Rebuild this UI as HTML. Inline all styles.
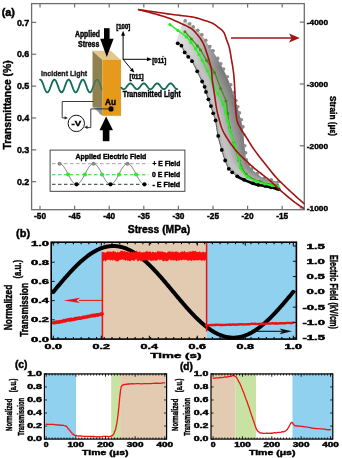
<!DOCTYPE html>
<html><head><meta charset="utf-8"><style>
html,body{margin:0;padding:0;background:#fff;}
body{width:342px;height:458px;overflow:hidden;}
svg{display:block;will-change:transform;}
text{font-family:"Liberation Sans", sans-serif;}
</style></head><body>
<svg width="342" height="458" viewBox="0 0 342 458" font-family="Liberation Sans, sans-serif">
<defs><linearGradient id="band" x1="0" y1="0" x2="1" y2="0"><stop offset="0" stop-color="#d6d6d6"/><stop offset="0.5" stop-color="#ababab"/><stop offset="1" stop-color="#7e7e7e"/></linearGradient><linearGradient id="fadeTop" gradientUnits="userSpaceOnUse" x1="0" y1="20" x2="0" y2="68"><stop offset="0" stop-color="#fff" stop-opacity="0.75"/><stop offset="1" stop-color="#fff" stop-opacity="0"/></linearGradient></defs>
<rect x="0" y="0" width="342" height="458" fill="#ffffff" stroke="none" stroke-width="1"/>
<line x1="40" y1="209.7" x2="40" y2="205.7" stroke="#6e6e6e" stroke-width="1.2"/>
<line x1="40" y1="3.6" x2="40" y2="7.6" stroke="#6e6e6e" stroke-width="1.2"/>
<text x="40" y="219.2" font-size="8.6" font-weight="bold" text-anchor="middle" fill="#000" textLength="12" lengthAdjust="spacingAndGlyphs" stroke="#000" stroke-width="0.42">-50</text>
<line x1="74.6" y1="209.7" x2="74.6" y2="205.7" stroke="#6e6e6e" stroke-width="1.2"/>
<line x1="74.6" y1="3.6" x2="74.6" y2="7.6" stroke="#6e6e6e" stroke-width="1.2"/>
<text x="74.6" y="219.2" font-size="8.6" font-weight="bold" text-anchor="middle" fill="#000" textLength="12" lengthAdjust="spacingAndGlyphs" stroke="#000" stroke-width="0.42">-45</text>
<line x1="109.2" y1="209.7" x2="109.2" y2="205.7" stroke="#6e6e6e" stroke-width="1.2"/>
<line x1="109.2" y1="3.6" x2="109.2" y2="7.6" stroke="#6e6e6e" stroke-width="1.2"/>
<text x="109.2" y="219.2" font-size="8.6" font-weight="bold" text-anchor="middle" fill="#000" textLength="12" lengthAdjust="spacingAndGlyphs" stroke="#000" stroke-width="0.42">-40</text>
<line x1="143.8" y1="209.7" x2="143.8" y2="205.7" stroke="#6e6e6e" stroke-width="1.2"/>
<line x1="143.8" y1="3.6" x2="143.8" y2="7.6" stroke="#6e6e6e" stroke-width="1.2"/>
<text x="143.8" y="219.2" font-size="8.6" font-weight="bold" text-anchor="middle" fill="#000" textLength="12" lengthAdjust="spacingAndGlyphs" stroke="#000" stroke-width="0.42">-35</text>
<line x1="178.4" y1="209.7" x2="178.4" y2="205.7" stroke="#6e6e6e" stroke-width="1.2"/>
<line x1="178.4" y1="3.6" x2="178.4" y2="7.6" stroke="#6e6e6e" stroke-width="1.2"/>
<text x="178.4" y="219.2" font-size="8.6" font-weight="bold" text-anchor="middle" fill="#000" textLength="12" lengthAdjust="spacingAndGlyphs" stroke="#000" stroke-width="0.42">-30</text>
<line x1="213" y1="209.7" x2="213" y2="205.7" stroke="#6e6e6e" stroke-width="1.2"/>
<line x1="213" y1="3.6" x2="213" y2="7.6" stroke="#6e6e6e" stroke-width="1.2"/>
<text x="213" y="219.2" font-size="8.6" font-weight="bold" text-anchor="middle" fill="#000" textLength="12" lengthAdjust="spacingAndGlyphs" stroke="#000" stroke-width="0.42">-25</text>
<line x1="247.6" y1="209.7" x2="247.6" y2="205.7" stroke="#6e6e6e" stroke-width="1.2"/>
<line x1="247.6" y1="3.6" x2="247.6" y2="7.6" stroke="#6e6e6e" stroke-width="1.2"/>
<text x="247.6" y="219.2" font-size="8.6" font-weight="bold" text-anchor="middle" fill="#000" textLength="12" lengthAdjust="spacingAndGlyphs" stroke="#000" stroke-width="0.42">-20</text>
<line x1="282.2" y1="209.7" x2="282.2" y2="205.7" stroke="#6e6e6e" stroke-width="1.2"/>
<line x1="282.2" y1="3.6" x2="282.2" y2="7.6" stroke="#6e6e6e" stroke-width="1.2"/>
<text x="282.2" y="219.2" font-size="8.6" font-weight="bold" text-anchor="middle" fill="#000" textLength="12" lengthAdjust="spacingAndGlyphs" stroke="#000" stroke-width="0.42">-15</text>
<line x1="31.6" y1="22.4" x2="36.1" y2="22.4" stroke="#6e6e6e" stroke-width="1.2"/>
<text x="29.3" y="25.57" font-size="8.8" font-weight="bold" text-anchor="end" fill="#000" textLength="12.4" lengthAdjust="spacingAndGlyphs" stroke="#000" stroke-width="0.42">0.7</text>
<line x1="31.6" y1="54.26" x2="36.1" y2="54.26" stroke="#6e6e6e" stroke-width="1.2"/>
<text x="29.3" y="57.43" font-size="8.8" font-weight="bold" text-anchor="end" fill="#000" textLength="12.4" lengthAdjust="spacingAndGlyphs" stroke="#000" stroke-width="0.42">0.6</text>
<line x1="31.6" y1="86.12" x2="36.1" y2="86.12" stroke="#6e6e6e" stroke-width="1.2"/>
<text x="29.3" y="89.29" font-size="8.8" font-weight="bold" text-anchor="end" fill="#000" textLength="12.4" lengthAdjust="spacingAndGlyphs" stroke="#000" stroke-width="0.42">0.5</text>
<line x1="31.6" y1="117.98" x2="36.1" y2="117.98" stroke="#6e6e6e" stroke-width="1.2"/>
<text x="29.3" y="121.15" font-size="8.8" font-weight="bold" text-anchor="end" fill="#000" textLength="12.4" lengthAdjust="spacingAndGlyphs" stroke="#000" stroke-width="0.42">0.4</text>
<line x1="31.6" y1="149.84" x2="36.1" y2="149.84" stroke="#6e6e6e" stroke-width="1.2"/>
<text x="29.3" y="153.01" font-size="8.8" font-weight="bold" text-anchor="end" fill="#000" textLength="12.4" lengthAdjust="spacingAndGlyphs" stroke="#000" stroke-width="0.42">0.3</text>
<line x1="31.6" y1="181.7" x2="36.1" y2="181.7" stroke="#6e6e6e" stroke-width="1.2"/>
<text x="29.3" y="184.87" font-size="8.8" font-weight="bold" text-anchor="end" fill="#000" textLength="12.4" lengthAdjust="spacingAndGlyphs" stroke="#000" stroke-width="0.42">0.2</text>
<line x1="304.3" y1="22.1" x2="299.8" y2="22.1" stroke="#6e6e6e" stroke-width="1.2"/>
<text x="306.8" y="24.98" font-size="8" font-weight="bold" text-anchor="start" fill="#000" textLength="21.2" lengthAdjust="spacingAndGlyphs" stroke="#000" stroke-width="0.42">-4000</text>
<line x1="304.3" y1="84" x2="299.8" y2="84" stroke="#6e6e6e" stroke-width="1.2"/>
<text x="306.8" y="86.88" font-size="8" font-weight="bold" text-anchor="start" fill="#000" textLength="21.2" lengthAdjust="spacingAndGlyphs" stroke="#000" stroke-width="0.42">-3000</text>
<line x1="304.3" y1="145.8" x2="299.8" y2="145.8" stroke="#6e6e6e" stroke-width="1.2"/>
<text x="306.8" y="148.68" font-size="8" font-weight="bold" text-anchor="start" fill="#000" textLength="21.2" lengthAdjust="spacingAndGlyphs" stroke="#000" stroke-width="0.42">-2000</text>
<line x1="304.3" y1="207.9" x2="299.8" y2="207.9" stroke="#6e6e6e" stroke-width="1.2"/>
<text x="306.8" y="210.78" font-size="8" font-weight="bold" text-anchor="start" fill="#000" textLength="21.2" lengthAdjust="spacingAndGlyphs" stroke="#000" stroke-width="0.42">-1000</text>
<rect x="31.6" y="3.6" width="272.7" height="206.1" fill="none" stroke="#6e6e6e" stroke-width="1.3"/>
<text x="1.7" y="16.21" font-size="10.3" font-weight="bold" text-anchor="start" fill="#000" textLength="13.3" lengthAdjust="spacingAndGlyphs" stroke="#000" stroke-width="0.42">(a)</text>
<g transform="translate(6.9,104.9) rotate(-90)"><text x="0" y="4.03" font-size="11.2" font-weight="bold" text-anchor="middle" fill="#000" textLength="89.2" lengthAdjust="spacingAndGlyphs" stroke="#000" stroke-width="0.42">Transmittance (%)</text></g>
<g transform="translate(333.6,116.1) rotate(90)"><text x="0" y="3.53" font-size="9.8" font-weight="bold" text-anchor="middle" fill="#000" textLength="40" lengthAdjust="spacingAndGlyphs" stroke="#000" stroke-width="0.42">Strain (με)</text></g>
<text x="159" y="233.27" font-size="10.2" font-weight="bold" text-anchor="middle" fill="#000" textLength="62.5" lengthAdjust="spacingAndGlyphs" stroke="#000" stroke-width="0.42">Stress (MPa)</text>
<polygon points="176.5,41.5 177.82,43.16 179.74,44.15 181.32,45.6 182.35,47.49 183.23,49.46 184.15,51.42 185.28,53.25 186.64,54.93 188.06,56.56 189.56,58.12 190.98,59.74 192.17,61.54 193.22,63.43 194.21,65.35 195.17,67.29 196.13,69.23 197.08,71.16 198.03,73.1 198.97,75.05 199.9,77 200.83,78.95 201.76,80.9 202.71,82.85 203.66,84.78 204.49,86.78 205.09,88.85 205.62,90.95 206.24,93.02 206.89,95.08 207.57,97.13 208.26,99.18 209,101.21 209.76,103.23 210.51,105.26 211.2,107.31 211.85,109.37 212.5,111.43 213.18,113.48 213.95,115.5 214.68,117.53 215.25,119.61 215.68,121.73 216.07,123.86 216.4,125.99 216.73,128.13 217.06,130.26 217.41,132.39 217.8,134.52 218.24,136.64 218.71,138.74 219.23,140.84 219.76,142.94 220.33,145.02 220.9,147.11 221.48,149.19 222.09,151.26 222.7,153.33 223.35,155.4 224.03,157.45 224.74,159.48 225.5,161.51 226.29,163.52 227.12,165.51 228.05,167.46 229.16,169.31 230.64,170.87 232.3,172.27 233.92,173.69 235.6,175.05 237.41,176.24 239.29,177.28 241.23,178.24 243.2,179.14 245.18,180 247.17,180.83 249.18,181.63 251.2,182.41 253.23,183.15 255.28,183.83 257.37,184.36 259.49,184.77 261.63,185.08 263.77,185.4 265.89,185.79 268,186.27 270.1,186.79 272.21,187.27 274.32,187.72 276.43,188.18 278.5,188.8 278.44,187.98 276.36,187.37 274.25,186.88 272.14,186.41 270.02,185.94 267.91,185.44 265.8,184.96 263.69,184.51 261.58,184.1 259.48,183.67 257.4,183.15 255.35,182.52 253.34,181.76 251.35,180.93 249.39,180.06 247.46,179.14 245.57,178.19 243.69,177.2 241.85,176.17 240.08,175.07 238.39,173.89 236.78,172.57 235.27,171.12 233.81,169.6 232.32,168.11 230.99,166.48 229.99,164.58 229.15,162.6 228.39,160.59 227.68,158.55 226.99,156.51 226.33,154.45 225.71,152.38 225.11,150.3 224.52,148.22 223.93,146.13 223.36,144.04 222.79,141.95 222.22,139.86 221.68,137.76 221.15,135.66 220.67,133.55 220.22,131.43 219.81,129.3 219.42,127.17 219.05,125.04 218.68,122.91 218.31,120.77 217.9,118.65 217.44,116.53 216.86,114.45 216.12,112.41 215.36,110.38 214.67,108.33 214,106.27 213.33,104.21 212.62,102.16 211.86,100.13 211.07,98.11 210.31,96.09 209.58,94.05 208.87,92 208.18,89.95 207.51,87.9 206.91,85.82 206.25,83.77 205.39,81.78 204.41,79.85 203.44,77.91 202.49,75.96 201.54,74.02 200.57,72.08 199.58,70.16 198.58,68.25 197.59,66.32 196.61,64.39 195.62,62.46 194.61,60.55 193.53,58.67 192.33,56.87 190.92,55.23 189.42,53.67 187.99,52.04 186.59,50.39 185.38,48.62 184.36,46.74 183.38,44.83 182.26,43 180.66,41.58 178.75,40.56 177.34,39.1" fill="#b8b8b8" stroke="none" stroke-width="1"/>
<polygon points="177.2,39.5 178.59,40.99 180.5,42.01 182.11,43.43 183.21,45.27 184.17,47.19 185.18,49.08 186.37,50.87 187.76,52.52 189.19,54.15 190.69,55.71 192.11,57.35 193.3,59.15 194.38,61.03 195.39,62.94 196.37,64.87 197.35,66.8 198.33,68.73 199.32,70.65 200.31,72.58 201.27,74.52 202.22,76.46 203.16,78.41 204.13,80.35 205.1,82.28 205.96,84.27 206.61,86.33 207.19,88.41 207.85,90.46 208.54,92.51 209.25,94.56 209.97,96.6 210.73,98.63 211.51,100.65 212.26,102.68 212.97,104.72 213.65,106.78 214.31,108.84 214.99,110.9 215.76,112.92 216.49,114.96 217.07,117.05 217.53,119.16 217.94,121.29 218.3,123.42 218.66,125.55 219.03,127.69 219.41,129.82 219.82,131.94 220.26,134.06 220.75,136.17 221.27,138.27 221.81,140.37 222.38,142.46 222.95,144.55 223.53,146.64 224.11,148.72 224.71,150.81 225.31,152.88 225.95,154.95 226.62,157 227.31,159.05 228.04,161.08 228.81,163.09 229.66,165.06 230.68,166.95 232.04,168.57 233.56,170.04 235.05,171.55 236.59,172.99 238.23,174.28 239.95,175.44 241.75,176.51 243.61,177.53 245.5,178.49 247.42,179.43 249.36,180.32 251.33,181.18 253.32,181.99 255.34,182.74 257.4,183.35 259.49,183.85 261.59,184.26 263.7,184.66 265.82,185.1 267.93,185.58 270.04,186.08 272.15,186.56 274.26,187.02 276.37,187.5 278.45,188.12 278.39,187.3 276.31,186.69 274.2,186.19 272.08,185.7 269.96,185.23 267.84,184.75 265.73,184.27 263.62,183.77 261.54,183.28 259.47,182.75 257.43,182.14 255.41,181.43 253.43,180.59 251.49,179.7 249.57,178.75 247.71,177.74 245.89,176.68 244.1,175.59 242.36,174.44 240.74,173.23 239.21,171.93 237.77,170.51 236.4,168.97 235.07,167.38 233.72,165.81 232.51,164.11 231.6,162.19 230.84,160.18 230.15,158.14 229.49,156.09 228.86,154.02 228.26,151.95 227.67,149.86 227.11,147.77 226.54,145.68 225.98,143.58 225.41,141.49 224.84,139.39 224.27,137.3 223.72,135.19 223.19,133.09 222.7,130.97 222.24,128.85 221.81,126.72 221.39,124.6 220.98,122.47 220.58,120.34 220.18,118.21 219.75,116.08 219.26,113.97 218.67,111.88 217.94,109.83 217.18,107.8 216.48,105.74 215.8,103.68 215.1,101.63 214.37,99.58 213.6,97.55 212.8,95.53 212.02,93.51 211.26,91.48 210.52,89.44 209.79,87.4 209.08,85.36 208.43,83.3 207.72,81.26 206.82,79.28 205.83,77.35 204.85,75.42 203.88,73.47 202.9,71.54 201.91,69.61 200.87,67.71 199.82,65.82 198.81,63.9 197.81,61.98 196.8,60.05 195.76,58.15 194.67,56.28 193.46,54.48 192.05,52.83 190.55,51.25 189.11,49.63 187.68,48 186.41,46.28 185.3,44.46 184.24,42.61 183.05,40.84 181.42,39.43 179.52,38.4 178.04,37.1" fill="#c3c3c3" stroke="none" stroke-width="1"/>
<polygon points="177.9,37.5 179.36,38.83 181.27,39.86 182.89,41.27 184.07,43.06 185.11,44.92 186.2,46.75 187.46,48.48 188.89,50.11 190.33,51.74 191.82,53.31 193.23,54.95 194.44,56.76 195.53,58.63 196.57,60.54 197.57,62.46 198.57,64.38 199.58,66.31 200.61,68.2 201.64,70.11 202.63,72.03 203.6,73.97 204.57,75.92 205.55,77.85 206.54,79.78 207.43,81.76 208.13,83.8 208.76,85.86 209.47,87.91 210.19,89.95 210.93,91.99 211.68,94.03 212.46,96.05 213.25,98.07 214.02,100.1 214.75,102.14 215.44,104.2 216.12,106.26 216.81,108.32 217.58,110.35 218.31,112.39 218.9,114.48 219.38,116.59 219.81,118.72 220.2,120.85 220.6,122.98 221,125.11 221.41,127.24 221.84,129.37 222.29,131.49 222.78,133.6 223.31,135.71 223.86,137.81 224.43,139.9 225,142 225.57,144.09 226.14,146.19 226.71,148.28 227.28,150.37 227.87,152.45 228.49,154.52 229.13,156.58 229.8,158.63 230.5,160.66 231.28,162.66 232.2,164.59 233.44,166.27 234.82,167.82 236.18,169.4 237.57,170.93 239.04,172.32 240.6,173.6 242.26,174.79 244.01,175.91 245.83,176.98 247.66,178.02 249.54,179.01 251.46,179.94 253.42,180.83 255.4,181.65 257.43,182.34 259.48,182.94 261.55,183.44 263.64,183.92 265.74,184.41 267.86,184.89 269.97,185.37 272.09,185.85 274.21,186.33 276.32,186.82 278.4,187.44 278.34,186.62 276.25,186 274.14,185.49 272.02,184.99 269.9,184.52 267.77,184.07 265.65,183.58 263.56,183.04 261.5,182.46 259.46,181.84 257.46,181.14 255.47,180.34 253.53,179.43 251.62,178.46 249.75,177.43 247.95,176.33 246.22,175.17 244.51,173.97 242.88,172.72 241.39,171.38 240.03,169.97 238.75,168.45 237.53,166.83 236.33,165.16 235.11,163.51 234.03,161.75 233.21,159.79 232.53,157.75 231.9,155.69 231.31,153.62 230.74,151.54 230.18,149.45 229.64,147.35 229.11,145.25 228.57,143.14 228.02,141.04 227.46,138.93 226.89,136.83 226.32,134.73 225.77,132.63 225.22,130.52 224.72,128.4 224.26,126.28 223.8,124.15 223.36,122.02 222.92,119.9 222.48,117.77 222.06,115.64 221.59,113.51 221.09,111.4 220.48,109.31 219.75,107.26 218.99,105.22 218.29,103.16 217.59,101.1 216.88,99.04 216.13,97 215.34,94.97 214.53,92.95 213.72,90.93 212.94,88.91 212.17,86.88 211.4,84.85 210.65,82.81 209.95,80.77 209.19,78.75 208.26,76.78 207.25,74.85 206.25,72.92 205.26,70.99 204.27,69.05 203.24,67.14 202.16,65.26 201.07,63.39 200.04,61.48 199.01,59.56 197.98,57.65 196.92,55.75 195.8,53.88 194.58,52.08 193.17,50.43 191.69,48.84 190.23,47.22 188.77,45.62 187.44,43.94 186.25,42.19 185.1,40.4 183.84,38.67 182.18,37.29 180.29,36.23 178.74,35.1" fill="#bfbfbf" stroke="none" stroke-width="1"/>
<polygon points="178.6,35.5 180.13,36.66 182.03,37.72 183.68,39.11 184.93,40.84 186.06,42.64 187.23,44.41 188.55,46.1 190.01,47.71 191.46,49.32 192.95,50.91 194.36,52.56 195.58,54.36 196.69,56.23 197.75,58.13 198.77,60.04 199.79,61.96 200.82,63.88 201.9,65.75 202.97,67.63 203.99,69.55 204.99,71.48 205.97,73.42 206.97,75.35 207.97,77.28 208.89,79.25 209.64,81.28 210.34,83.32 211.08,85.36 211.84,87.39 212.6,89.42 213.38,91.45 214.18,93.47 214.99,95.49 215.78,97.52 216.52,99.56 217.23,101.62 217.92,103.68 218.63,105.73 219.39,107.77 220.12,109.82 220.72,111.91 221.22,114.03 221.68,116.15 222.1,118.28 222.53,120.41 222.96,122.54 223.4,124.66 223.85,126.79 224.32,128.92 224.82,131.03 225.36,133.14 225.91,135.24 226.48,137.34 227.05,139.45 227.61,141.55 228.17,143.65 228.71,145.75 229.25,147.85 229.8,149.95 230.36,152.04 230.95,154.11 231.55,156.18 232.19,158.24 232.89,160.27 233.72,162.22 234.83,163.97 236.08,165.6 237.3,167.26 238.55,168.87 239.86,170.36 241.26,171.75 242.77,173.06 244.42,174.3 246.15,175.47 247.9,176.61 249.71,177.7 251.59,178.71 253.51,179.67 255.46,180.56 257.45,181.34 259.47,182.02 261.51,182.62 263.57,183.18 265.67,183.72 267.78,184.2 269.91,184.66 272.03,185.14 274.15,185.63 276.26,186.14 278.35,186.76 278.29,185.94 276.2,185.32 274.08,184.79 271.96,184.28 269.83,183.81 267.7,183.38 265.57,182.89 263.49,182.3 261.45,181.64 259.46,180.92 257.48,180.13 255.53,179.25 253.62,178.27 251.75,177.23 249.93,176.12 248.19,174.92 246.54,173.65 244.91,172.36 243.39,170.99 242.05,169.54 240.85,168.01 239.73,166.39 238.66,164.69 237.59,162.94 236.51,161.21 235.55,159.38 234.82,157.39 234.21,155.33 233.66,153.25 233.13,151.16 232.61,149.06 232.1,146.95 231.61,144.84 231.11,142.72 230.6,140.6 230.06,138.49 229.5,136.38 228.94,134.27 228.37,132.17 227.81,130.06 227.26,127.95 226.75,125.83 226.27,123.7 225.8,121.57 225.33,119.45 224.85,117.32 224.38,115.2 223.93,113.07 223.44,110.95 222.91,108.83 222.3,106.74 221.57,104.68 220.81,102.64 220.1,100.58 219.38,98.52 218.65,96.46 217.89,94.42 217.08,92.39 216.26,90.38 215.43,88.36 214.62,86.34 213.82,84.31 213.02,82.29 212.22,80.27 211.47,78.24 210.65,76.24 209.7,74.28 208.67,72.36 207.66,70.43 206.65,68.5 205.63,66.57 204.57,64.67 203.45,62.81 202.32,60.96 201.26,59.06 200.21,57.15 199.16,55.24 198.08,53.35 196.94,51.49 195.71,49.69 194.3,48.03 192.82,46.43 191.35,44.81 189.86,43.23 188.46,41.61 187.19,39.91 185.96,38.18 184.63,36.51 182.95,35.15 181.06,34.07 179.44,33.1" fill="#b4b4b4" stroke="none" stroke-width="1"/>
<polygon points="179.3,33.5 180.91,34.5 182.8,35.58 184.47,36.94 185.79,38.62 187,40.37 188.26,42.08 189.64,43.71 191.13,45.3 192.6,46.91 194.08,48.51 195.48,50.17 196.71,51.97 197.84,53.83 198.93,55.72 199.97,57.63 201.01,59.54 202.07,61.45 203.19,63.3 204.31,65.16 205.36,67.07 206.37,68.99 207.38,70.93 208.39,72.86 209.41,74.78 210.36,76.74 211.16,78.75 211.91,80.78 212.69,82.8 213.49,84.83 214.28,86.85 215.09,88.87 215.91,90.89 216.73,92.91 217.54,94.94 218.3,96.98 219.02,99.03 219.73,101.09 220.45,103.15 221.21,105.2 221.93,107.25 222.55,109.35 223.07,111.46 223.55,113.58 224,115.71 224.46,117.84 224.93,119.96 225.4,122.09 225.87,124.21 226.35,126.34 226.85,128.46 227.4,130.57 227.96,132.68 228.53,134.78 229.09,136.89 229.65,139 230.19,141.11 230.71,143.22 231.22,145.34 231.72,147.45 232.23,149.55 232.76,151.65 233.31,153.74 233.88,155.81 234.5,157.87 235.24,159.86 236.23,161.67 237.34,163.38 238.43,165.12 239.54,166.81 240.68,168.4 241.91,169.91 243.29,171.34 244.83,172.68 246.48,173.96 248.14,175.21 249.89,176.38 251.72,177.48 253.6,178.51 255.52,179.47 257.48,180.33 259.46,181.11 261.46,181.8 263.5,182.45 265.59,183.03 267.71,183.51 269.85,183.95 271.97,184.43 274.09,184.93 276.21,185.46 278.3,186.08 278.24,185.26 276.14,184.64 274.03,184.1 271.9,183.57 269.77,183.1 267.63,182.69 265.5,182.2 263.42,181.56 261.41,180.82 259.45,180.01 257.51,179.12 255.59,178.16 253.72,177.11 251.88,176 250.1,174.81 248.43,173.52 246.87,172.14 245.32,170.75 243.9,169.27 242.7,167.7 241.67,166.05 240.71,164.33 239.79,162.54 238.85,160.72 237.91,158.91 237.07,157.02 236.44,154.99 235.9,152.9 235.41,150.8 234.94,148.69 234.48,146.57 234.03,144.45 233.58,142.32 233.12,140.19 232.63,138.07 232.1,135.94 231.55,133.83 231,131.71 230.42,129.6 229.85,127.49 229.29,125.38 228.78,123.25 228.29,121.12 227.8,118.99 227.29,116.87 226.79,114.75 226.29,112.63 225.8,110.5 225.29,108.38 224.74,106.26 224.11,104.17 223.39,102.11 222.63,100.06 221.9,97.99 221.17,95.93 220.43,93.88 219.64,91.84 218.83,89.81 217.98,87.8 217.14,85.78 216.3,83.77 215.46,81.75 214.63,79.74 213.79,77.73 212.98,75.72 212.12,73.73 211.14,71.78 210.09,69.86 209.06,67.93 208.03,66.01 206.99,64.09 205.91,62.19 204.74,60.36 203.57,58.53 202.48,56.64 201.41,54.73 200.34,52.83 199.23,50.95 198.08,49.1 196.83,47.3 195.43,45.62 193.96,44.01 192.47,42.41 190.95,40.85 189.49,39.27 188.13,37.64 186.82,35.96 185.42,34.35 183.71,33.01 181.83,31.9 180.14,31.1" fill="#a9a9a9" stroke="none" stroke-width="1"/>
<polygon points="180,31.5 181.68,32.34 183.56,33.43 185.26,34.78 186.65,36.41 187.94,38.1 189.29,39.74 190.74,41.32 192.25,42.89 193.73,44.49 195.21,46.1 196.61,47.78 197.85,49.57 199,51.43 200.1,53.31 201.17,55.22 202.23,57.12 203.32,59.02 204.48,60.85 205.64,62.69 206.72,64.58 207.76,66.5 208.78,68.43 209.81,70.36 210.85,72.28 211.83,74.23 212.68,76.22 213.48,78.24 214.31,80.25 215.13,82.26 215.96,84.28 216.79,86.3 217.64,88.31 218.48,90.33 219.29,92.36 220.07,94.4 220.82,96.45 221.54,98.51 222.27,100.57 223.02,102.62 223.75,104.68 224.37,106.78 224.92,108.89 225.43,111.01 225.91,113.14 226.4,115.26 226.9,117.39 227.4,119.51 227.89,121.64 228.37,123.77 228.89,125.89 229.44,128.01 230.01,130.12 230.59,132.22 231.14,134.34 231.69,136.45 232.22,138.57 232.72,140.7 233.18,142.83 233.64,144.95 234.11,147.07 234.58,149.18 235.06,151.29 235.56,153.39 236.11,155.47 236.77,157.49 237.63,159.37 238.6,161.16 239.56,162.97 240.52,164.75 241.5,166.44 242.57,168.07 243.8,169.61 245.24,171.07 246.8,172.45 248.39,173.8 250.07,175.07 251.85,176.24 253.7,177.34 255.58,178.38 257.5,179.32 259.45,180.19 261.42,180.98 263.44,181.71 265.51,182.33 267.64,182.82 269.78,183.25 271.92,183.72 274.04,184.24 276.15,184.78 278.25,185.4 278.19,184.58 276.09,183.96 273.97,183.4 271.85,182.86 269.71,182.4 267.55,182 265.42,181.51 263.36,180.82 261.37,180 259.44,179.09 257.53,178.11 255.65,177.07 253.81,175.95 252.01,174.76 250.28,173.49 248.68,172.11 247.19,170.63 245.73,169.13 244.42,167.54 243.36,165.85 242.49,164.09 241.7,162.27 240.91,160.4 240.11,158.5 239.3,156.61 238.59,154.65 238.05,152.59 237.59,150.48 237.17,148.36 236.76,146.22 236.35,144.09 235.95,141.95 235.54,139.81 235.12,137.67 234.65,135.53 234.14,133.4 233.6,131.27 233.05,129.15 232.47,127.04 231.89,124.93 231.33,122.81 230.81,120.68 230.31,118.55 229.8,116.42 229.26,114.3 228.72,112.18 228.19,110.06 227.67,107.93 227.13,105.81 226.56,103.7 225.92,101.6 225.2,99.53 224.45,97.47 223.71,95.41 222.97,93.35 222.2,91.3 221.4,89.26 220.57,87.23 219.71,85.22 218.84,83.21 217.98,81.2 217.11,79.19 216.24,77.19 215.37,75.19 214.5,73.19 213.59,71.22 212.58,69.28 211.52,67.36 210.47,65.44 209.42,63.52 208.36,61.6 207.24,59.72 206.03,57.91 204.81,56.1 203.7,54.22 202.61,52.32 201.52,50.42 200.39,48.55 199.21,46.7 197.96,44.91 196.56,43.22 195.09,41.6 193.59,40 192.04,38.46 190.52,36.94 189.08,35.37 187.69,33.74 186.21,32.19 184.48,30.86 182.6,29.74 180.84,29.1" fill="#9f9f9f" stroke="none" stroke-width="1"/>
<polygon points="180.7,29.5 182.45,30.17 184.33,31.29 186.05,32.62 187.51,34.19 188.89,35.82 190.31,37.41 191.83,38.94 193.37,40.48 194.86,42.08 196.34,43.7 197.73,45.39 198.99,47.18 200.16,49.03 201.28,50.91 202.37,52.8 203.46,54.7 204.57,56.59 205.77,58.4 206.98,60.22 208.08,62.1 209.14,64.01 210.18,65.94 211.23,67.86 212.29,69.78 213.3,71.72 214.2,73.7 215.05,75.7 215.92,77.7 216.78,79.7 217.64,81.71 218.5,83.72 219.36,85.73 220.22,87.75 221.05,89.78 221.85,91.82 222.61,93.87 223.35,95.93 224.09,97.99 224.84,100.05 225.56,102.12 226.2,104.21 226.76,106.32 227.3,108.45 227.81,110.57 228.33,112.69 228.87,114.81 229.4,116.93 229.9,119.06 230.4,121.19 230.92,123.32 231.48,125.44 232.06,127.55 232.64,129.67 233.19,131.78 233.73,133.91 234.25,136.04 234.72,138.17 235.15,140.31 235.56,142.45 235.98,144.59 236.39,146.72 236.82,148.84 237.25,150.96 237.73,153.07 238.29,155.13 239.02,157.07 239.86,158.94 240.69,160.83 241.5,162.69 242.32,164.49 243.22,166.22 244.32,167.89 245.65,169.45 247.13,170.93 248.63,172.39 250.25,173.76 251.98,175.01 253.79,176.18 255.64,177.29 257.53,178.31 259.44,179.27 261.38,180.16 263.37,180.97 265.44,181.64 267.57,182.13 269.72,182.54 271.86,183.01 273.98,183.54 276.1,184.1 278.2,184.72 278.14,183.9 276.03,183.28 273.91,182.7 271.79,182.15 269.64,181.69 267.48,181.31 265.34,180.81 263.29,180.09 261.33,179.18 259.43,178.17 257.56,177.1 255.71,175.98 253.9,174.79 252.14,173.53 250.46,172.18 248.92,170.7 247.52,169.12 246.14,167.52 244.93,165.82 244.01,164.01 243.31,162.14 242.68,160.21 242.04,158.25 241.37,156.28 240.7,154.31 240.11,152.29 239.66,150.19 239.28,148.05 238.92,145.91 238.57,143.76 238.22,141.61 237.87,139.45 237.51,137.29 237.12,135.14 236.68,132.99 236.19,130.85 235.65,128.72 235.1,126.59 234.52,124.47 233.94,122.36 233.36,120.24 232.83,118.11 232.32,115.97 231.79,113.84 231.23,111.72 230.65,109.61 230.09,107.49 229.54,105.36 228.98,103.24 228.39,101.13 227.74,99.03 227.02,96.96 226.27,94.89 225.52,92.83 224.76,90.77 223.97,88.72 223.16,86.68 222.31,84.65 221.44,82.64 220.55,80.63 219.66,78.63 218.76,76.63 217.86,74.63 216.94,72.65 216.02,70.67 215.06,68.71 214.01,66.78 212.94,64.86 211.87,62.95 210.8,61.03 209.72,59.12 208.58,57.25 207.32,55.46 206.06,53.67 204.92,51.8 203.81,49.91 202.7,48.02 201.54,46.15 200.35,44.31 199.08,42.52 197.69,40.82 196.22,39.18 194.72,37.59 193.13,36.07 191.54,34.6 190.02,33.09 188.55,31.53 187,30.02 185.24,28.72 183.37,27.57 181.54,27.1" fill="#969696" stroke="none" stroke-width="1"/>
<polygon points="181.4,27.5 183.22,28.01 185.09,29.15 186.84,30.46 188.37,31.97 189.83,33.55 191.34,35.07 192.92,36.55 194.49,38.07 196,39.67 197.47,41.3 198.86,43 200.12,44.79 201.31,46.63 202.46,48.5 203.57,50.39 204.68,52.28 205.81,54.16 207.06,55.95 208.31,57.74 209.45,59.62 210.53,61.53 211.59,63.45 212.65,65.36 213.73,67.28 214.76,69.21 215.72,71.17 216.62,73.15 217.53,75.14 218.43,77.14 219.32,79.14 220.21,81.15 221.09,83.16 221.96,85.17 222.81,87.2 223.62,89.23 224.4,91.28 225.16,93.34 225.9,95.41 226.65,97.47 227.37,99.55 228.02,101.64 228.61,103.76 229.17,105.88 229.71,108 230.27,110.12 230.84,112.23 231.39,114.35 231.92,116.48 232.43,118.62 232.96,120.75 233.53,122.87 234.11,124.99 234.69,127.11 235.24,129.23 235.78,131.36 236.27,133.5 236.72,135.64 237.12,137.8 237.49,139.95 237.85,142.1 238.21,144.25 238.57,146.4 238.94,148.54 239.34,150.67 239.81,152.76 240.42,154.77 241.12,156.72 241.82,158.68 242.48,160.63 243.14,162.53 243.88,164.38 244.83,166.16 246.06,167.84 247.45,169.42 248.87,170.99 250.42,172.44 252.12,173.78 253.89,175.02 255.7,176.2 257.56,177.31 259.43,178.36 261.34,179.34 263.3,180.23 265.36,180.95 267.5,181.45 269.66,181.83 271.8,182.3 273.93,182.84 276.04,183.42 278.15,184.04 278.09,183.22 275.98,182.6 273.86,182.01 271.73,181.45 269.58,180.98 267.41,180.62 265.27,180.12 263.22,179.35 261.28,178.36 259.42,177.26 257.59,176.1 255.77,174.89 254,173.63 252.27,172.3 250.64,170.87 249.16,169.3 247.85,167.61 246.55,165.9 245.45,164.09 244.66,162.17 244.13,160.18 243.66,158.16 243.17,156.11 242.63,154.06 242.1,152.01 241.63,149.93 241.27,147.79 240.97,145.63 240.68,143.46 240.39,141.29 240.1,139.12 239.79,136.95 239.48,134.78 239.12,132.61 238.71,130.45 238.23,128.3 237.7,126.17 237.15,124.03 236.57,121.91 235.98,119.79 235.4,117.67 234.86,115.53 234.34,113.39 233.79,111.26 233.2,109.14 232.59,107.03 231.99,104.92 231.42,102.8 230.83,100.68 230.21,98.56 229.55,96.46 228.83,94.38 228.09,92.31 227.33,90.24 226.55,88.18 225.75,86.14 224.92,84.1 224.05,82.07 223.16,80.06 222.25,78.06 221.34,76.06 220.41,74.07 219.47,72.08 218.51,70.1 217.54,68.14 216.52,66.2 215.45,64.28 214.36,62.37 213.27,60.45 212.19,58.54 211.08,56.64 209.91,54.78 208.61,53.01 207.31,51.25 206.14,49.38 205.02,47.49 203.88,45.61 202.7,43.75 201.49,41.91 200.21,40.13 198.82,38.42 197.36,36.77 195.84,35.18 194.23,33.69 192.57,32.27 190.96,30.82 189.41,29.31 187.79,27.86 186.01,26.58 184.14,25.41 182.24,25.1" fill="#8d8d8d" stroke="none" stroke-width="1"/>
<polygon points="182.1,25.5 183.99,25.84 185.85,27.01 187.63,28.29 189.24,29.75 190.78,31.27 192.37,32.74 194.01,34.17 195.61,35.66 197.13,37.25 198.59,38.9 199.98,40.6 201.26,42.39 202.47,44.23 203.64,46.09 204.77,47.97 205.9,49.86 207.06,51.73 208.35,53.5 209.64,55.27 210.81,57.13 211.91,59.04 212.99,60.95 214.07,62.87 215.16,64.78 216.23,66.7 217.23,68.65 218.2,70.61 219.15,72.59 220.08,74.58 221,76.57 221.91,78.57 222.82,80.58 223.7,82.59 224.56,84.62 225.39,86.65 226.19,88.7 226.97,90.76 227.72,92.83 228.47,94.9 229.19,96.98 229.85,99.08 230.46,101.19 231.04,103.31 231.61,105.43 232.2,107.55 232.81,109.66 233.39,111.78 233.94,113.91 234.46,116.05 234.99,118.18 235.57,120.3 236.16,122.42 236.74,124.55 237.29,126.68 237.82,128.81 238.3,130.96 238.72,133.12 239.09,135.28 239.41,137.45 239.72,139.62 240.03,141.79 240.33,143.95 240.63,146.11 240.95,148.27 241.33,150.4 241.82,152.47 242.38,154.5 242.95,156.54 243.47,158.57 243.96,160.57 244.53,162.54 245.34,164.44 246.47,166.23 247.78,167.91 249.11,169.58 250.6,171.13 252.25,172.54 253.98,173.86 255.76,175.11 257.58,176.3 259.42,177.44 261.29,178.52 263.23,179.5 265.28,180.26 267.42,180.76 269.59,181.12 271.74,181.59 273.87,182.15 275.99,182.74 278.1,183.36 278.04,182.54 275.92,181.92 273.8,181.31 271.67,180.74 269.52,180.27 267.34,179.93 265.19,179.43 263.15,178.61 261.24,177.54 259.41,176.34 257.61,175.09 255.83,173.8 254.09,172.47 252.4,171.07 250.82,169.56 249.4,167.89 248.17,166.1 246.96,164.29 245.96,162.37 245.32,160.32 244.94,158.22 244.65,156.1 244.3,153.96 243.89,151.84 243.49,149.71 243.15,147.56 242.89,145.39 242.65,143.2 242.43,141.02 242.21,138.83 241.97,136.64 241.72,134.45 241.45,132.27 241.13,130.08 240.73,127.91 240.27,125.76 239.75,123.61 239.21,121.47 238.62,119.35 238.02,117.22 237.43,115.1 236.89,112.96 236.36,110.82 235.79,108.68 235.17,106.57 234.52,104.46 233.9,102.35 233.29,100.23 232.67,98.11 232.04,96 231.36,93.9 230.65,91.81 229.9,89.73 229.14,87.66 228.35,85.6 227.52,83.55 226.67,81.52 225.8,79.49 224.89,77.48 223.96,75.48 223.01,73.49 222.06,71.5 221.08,69.52 220.08,67.56 219.06,65.61 217.99,63.69 216.89,61.78 215.78,59.87 214.68,57.96 213.57,56.05 212.44,54.15 211.25,52.3 209.9,50.56 208.56,48.82 207.36,46.96 206.22,45.08 205.06,43.2 203.86,41.35 202.62,39.52 201.33,37.73 199.95,36.01 198.49,34.36 196.96,32.77 195.32,31.3 193.6,29.93 191.91,28.55 190.27,27.09 188.58,25.7 186.77,24.44 184.92,23.24 182.94,23.1" fill="#838383" stroke="none" stroke-width="1"/>
<polygon points="182.8,23.5 184.76,23.68 186.62,24.86 188.42,26.13 190.1,27.54 191.72,29 193.39,30.4 195.1,31.78 196.73,33.25 198.27,34.84 199.72,36.49 201.1,38.21 202.4,40 203.63,41.83 204.82,43.68 205.98,45.56 207.12,47.44 208.31,49.3 209.64,51.05 210.98,52.8 212.17,54.65 213.3,56.55 214.4,58.46 215.49,60.37 216.6,62.28 217.7,64.19 218.75,66.12 219.77,68.07 220.76,70.04 221.73,72.02 222.68,74 223.62,76 224.55,78 225.45,80.01 226.32,82.03 227.17,84.07 227.99,86.12 228.78,88.18 229.54,90.25 230.28,92.32 231,94.41 231.67,96.51 232.31,98.62 232.91,100.74 233.51,102.86 234.14,104.97 234.77,107.08 235.39,109.2 235.95,111.33 236.48,113.47 237.02,115.61 237.61,117.74 238.21,119.86 238.8,121.99 239.34,124.12 239.86,126.27 240.33,128.42 240.73,130.59 241.05,132.77 241.33,134.95 241.59,137.14 241.84,139.32 242.08,141.51 242.32,143.69 242.56,145.87 242.85,148.03 243.21,150.17 243.64,152.28 244.07,154.39 244.45,156.51 244.78,158.61 245.19,160.69 245.86,162.71 246.88,164.61 248.11,166.4 249.36,168.17 250.78,169.82 252.38,171.31 254.07,172.7 255.82,174.02 257.61,175.29 259.41,176.53 261.25,177.7 263.17,178.76 265.21,179.57 267.35,180.07 269.53,180.41 271.68,180.88 273.81,181.45 275.93,182.05 278.05,182.68 278,182 275.88,181.37 273.76,180.75 271.63,180.17 269.47,179.71 267.28,179.38 265.13,178.88 263.1,178.02 261.21,176.88 259.4,175.61 257.63,174.28 255.88,172.93 254.17,171.54 252.51,170.08 250.96,168.5 249.6,166.77 248.43,164.89 247.29,163 246.37,160.99 245.84,158.85 245.6,156.65 245.43,154.45 245.2,152.25 244.9,150.06 244.61,147.87 244.37,145.67 244.18,143.47 244.01,141.26 243.84,139.06 243.66,136.86 243.47,134.65 243.26,132.45 243.02,130.25 242.73,128.06 242.36,125.88 241.9,123.72 241.39,121.57 240.85,119.43 240.27,117.29 239.65,115.17 239.06,113.04 238.51,110.9 237.97,108.76 237.39,106.62 236.74,104.51 236.07,102.4 235.42,100.29 234.78,98.17 234.15,96.05 233.5,93.94 232.81,91.84 232.1,89.75 231.36,87.66 230.59,85.59 229.78,83.54 228.94,81.49 228.08,79.45 227.19,77.43 226.27,75.42 225.33,73.42 224.36,71.43 223.38,69.45 222.37,67.48 221.34,65.53 220.27,63.59 219.17,61.68 218.04,59.78 216.92,57.87 215.8,55.96 214.68,54.06 213.54,52.17 212.31,50.33 210.93,48.6 209.55,46.87 208.34,45.02 207.18,43.15 206,41.28 204.78,39.43 203.53,37.61 202.23,35.82 200.85,34.09 199.4,32.43 197.85,30.85 196.19,29.39 194.42,28.07 192.66,26.73 190.96,25.32 189.21,23.97 187.38,22.72 185.53,21.51 183.5,21.5" fill="#797979" stroke="none" stroke-width="1"/>
<polygon points="176.5,41.5 177.82,43.16 179.74,44.15 181.32,45.6 182.35,47.49 183.23,49.46 184.15,51.42 185.28,53.25 186.64,54.93 188.06,56.56 189.56,58.12 190.98,59.74 192.17,61.54 193.22,63.43 194.21,65.35 195.17,67.29 196.13,69.23 197.08,71.16 198.03,73.1 198.97,75.05 199.9,77 200.83,78.95 201.76,80.9 202.71,82.85 203.66,84.78 204.49,86.78 205.09,88.85 205.62,90.95 206.24,93.02 206.89,95.08 207.57,97.13 208.26,99.18 209,101.21 209.76,103.23 210.51,105.26 211.2,107.31 211.85,109.37 212.5,111.43 213.18,113.48 213.95,115.5 214.68,117.53 215.25,119.61 215.68,121.73 216.07,123.86 216.4,125.99 216.73,128.13 217.06,130.26 217.41,132.39 217.8,134.52 218.24,136.64 218.71,138.74 219.23,140.84 219.76,142.94 220.33,145.02 220.9,147.11 221.48,149.19 222.09,151.26 222.7,153.33 223.35,155.4 224.03,157.45 224.74,159.48 225.5,161.51 226.29,163.52 227.12,165.51 228.05,167.46 229.16,169.31 230.64,170.87 232.3,172.27 233.92,173.69 235.6,175.05 237.41,176.24 239.29,177.28 241.23,178.24 243.2,179.14 245.18,180 247.17,180.83 249.18,181.63 251.2,182.41 253.23,183.15 255.28,183.83 257.37,184.36 259.49,184.77 261.63,185.08 263.77,185.4 265.89,185.79 268,186.27 270.1,186.79 272.21,187.27 274.32,187.72 276.43,188.18 278.5,188.8 278,182 275.88,181.37 273.76,180.75 271.63,180.17 269.47,179.71 267.28,179.38 265.13,178.88 263.1,178.02 261.21,176.88 259.4,175.61 257.63,174.28 255.88,172.93 254.17,171.54 252.51,170.08 250.96,168.5 249.6,166.77 248.43,164.89 247.29,163 246.37,160.99 245.84,158.85 245.6,156.65 245.43,154.45 245.2,152.25 244.9,150.06 244.61,147.87 244.37,145.67 244.18,143.47 244.01,141.26 243.84,139.06 243.66,136.86 243.47,134.65 243.26,132.45 243.02,130.25 242.73,128.06 242.36,125.88 241.9,123.72 241.39,121.57 240.85,119.43 240.27,117.29 239.65,115.17 239.06,113.04 238.51,110.9 237.97,108.76 237.39,106.62 236.74,104.51 236.07,102.4 235.42,100.29 234.78,98.17 234.15,96.05 233.5,93.94 232.81,91.84 232.1,89.75 231.36,87.66 230.59,85.59 229.78,83.54 228.94,81.49 228.08,79.45 227.19,77.43 226.27,75.42 225.33,73.42 224.36,71.43 223.38,69.45 222.37,67.48 221.34,65.53 220.27,63.59 219.17,61.68 218.04,59.78 216.92,57.87 215.8,55.96 214.68,54.06 213.54,52.17 212.31,50.33 210.93,48.6 209.55,46.87 208.34,45.02 207.18,43.15 206,41.28 204.78,39.43 203.53,37.61 202.23,35.82 200.85,34.09 199.4,32.43 197.85,30.85 196.19,29.39 194.42,28.07 192.66,26.73 190.96,25.32 189.21,23.97 187.38,22.72 185.53,21.51 183.5,21.5" fill="url(#fadeTop)" stroke="none" stroke-width="1"/>
<circle cx="185.2" cy="20.8" r="1.8" fill="#8a8a8a" stroke="none" stroke-width="1"/>
<circle cx="189.7" cy="23.8" r="1.8" fill="#8a8a8a" stroke="none" stroke-width="1"/>
<circle cx="193.3" cy="26.7" r="1.8" fill="#8a8a8a" stroke="none" stroke-width="1"/>
<circle cx="197.8" cy="30.2" r="1.8" fill="#8a8a8a" stroke="none" stroke-width="1"/>
<circle cx="201.9" cy="34.7" r="1.8" fill="#8a8a8a" stroke="none" stroke-width="1"/>
<circle cx="205.8" cy="40.2" r="1.8" fill="#8a8a8a" stroke="none" stroke-width="1"/>
<circle cx="209.8" cy="46.5" r="1.8" fill="#8a8a8a" stroke="none" stroke-width="1"/>
<circle cx="213.1" cy="50.7" r="1.8" fill="#8a8a8a" stroke="none" stroke-width="1"/>
<circle cx="217.7" cy="58.4" r="1.8" fill="#8a8a8a" stroke="none" stroke-width="1"/>
<circle cx="220.8" cy="63.7" r="1.8" fill="#8a8a8a" stroke="none" stroke-width="1"/>
<circle cx="223.6" cy="69" r="1.8" fill="#8a8a8a" stroke="none" stroke-width="1"/>
<circle cx="227.3" cy="76.7" r="1.8" fill="#8a8a8a" stroke="none" stroke-width="1"/>
<circle cx="230.7" cy="84.8" r="1.8" fill="#8a8a8a" stroke="none" stroke-width="1"/>
<circle cx="233.5" cy="92.7" r="1.8" fill="#8a8a8a" stroke="none" stroke-width="1"/>
<circle cx="235.9" cy="100.6" r="1.8" fill="#8a8a8a" stroke="none" stroke-width="1"/>
<circle cx="237.8" cy="106.7" r="1.8" fill="#8a8a8a" stroke="none" stroke-width="1"/>
<circle cx="239.4" cy="112.9" r="1.8" fill="#8a8a8a" stroke="none" stroke-width="1"/>
<circle cx="241.3" cy="119.7" r="1.8" fill="#8a8a8a" stroke="none" stroke-width="1"/>
<circle cx="242.9" cy="126.9" r="1.8" fill="#8a8a8a" stroke="none" stroke-width="1"/>
<circle cx="243.8" cy="134.7" r="1.8" fill="#8a8a8a" stroke="none" stroke-width="1"/>
<circle cx="244.7" cy="145.7" r="1.8" fill="#8a8a8a" stroke="none" stroke-width="1"/>
<circle cx="245.6" cy="152.7" r="1.8" fill="#8a8a8a" stroke="none" stroke-width="1"/>
<circle cx="246.4" cy="159.9" r="1.8" fill="#8a8a8a" stroke="none" stroke-width="1"/>
<circle cx="248.8" cy="164.7" r="1.8" fill="#8a8a8a" stroke="none" stroke-width="1"/>
<circle cx="251.7" cy="168.7" r="1.8" fill="#8a8a8a" stroke="none" stroke-width="1"/>
<circle cx="257.3" cy="173.5" r="1.8" fill="#8a8a8a" stroke="none" stroke-width="1"/>
<circle cx="264.3" cy="178.2" r="1.8" fill="#8a8a8a" stroke="none" stroke-width="1"/>
<circle cx="271.3" cy="179.7" r="1.8" fill="#8a8a8a" stroke="none" stroke-width="1"/>
<circle cx="278.3" cy="181.7" r="1.8" fill="#8a8a8a" stroke="none" stroke-width="1"/>
<polyline points="177.5,43 178.17,43.33 179.14,43.78 180.22,44.44 181.2,45.4 182.05,46.83 182.86,48.62 183.67,50.49 184.5,52.1 185.35,53.36 186.22,54.44 187.1,55.45 188,56.5 188.9,57.47 189.79,58.34 190.74,59.4 191.8,60.9 193.01,63.02 194.33,65.59 195.69,68.33 197,71 198.3,73.66 199.62,76.4 200.85,78.99 201.9,81.2 202.72,82.87 203.37,84.17 203.91,85.3 204.4,86.5 204.8,87.74 205.11,88.92 205.41,90.17 205.8,91.6 206.33,93.3 206.93,95.19 207.57,97.14 208.2,99 208.82,100.73 209.46,102.41 210.09,104.09 210.7,105.8 211.29,107.57 211.86,109.37 212.42,111.19 213,113 213.59,114.61 214.18,116.09 214.78,117.82 215.4,120.2 216.01,123.51 216.63,127.47 217.28,131.66 218,135.6 218.83,139.28 219.75,142.9 220.69,146.37 221.6,149.6 222.46,152.54 223.3,155.26 224.14,157.79 225,160.2 225.89,162.55 226.8,164.79 227.71,166.82 228.6,168.5 229.43,169.7 230.21,170.52 231.04,171.2 232,172 233.09,172.98 234.28,174 235.57,175.02 237,176 238.57,176.91 240.26,177.78 242.08,178.64 244,179.5 246.16,180.42 248.51,181.38 250.81,182.27 252.8,183 254.31,183.52 255.51,183.9 256.66,184.2 258,184.5 259.65,184.8 261.45,185.06 263.28,185.31 265,185.6 266.58,185.93 268.09,186.29 269.56,186.66 271,187 272.49,187.33 274,187.65 275.38,187.95 276.5,188.2 277.29,188.41 277.84,188.57 278.22,188.71 278.5,188.8" fill="none" stroke="#444" stroke-width="0.9" stroke-linejoin="round" stroke-linecap="round"/>
<circle cx="177.7" cy="43.3" r="1.9" fill="#000" stroke="none" stroke-width="1"/>
<circle cx="181.4" cy="45.7" r="1.9" fill="#000" stroke="none" stroke-width="1"/>
<circle cx="184.7" cy="52.4" r="1.9" fill="#000" stroke="none" stroke-width="1"/>
<circle cx="188.2" cy="56.8" r="1.9" fill="#000" stroke="none" stroke-width="1"/>
<circle cx="192" cy="61.2" r="1.9" fill="#000" stroke="none" stroke-width="1"/>
<circle cx="197.2" cy="71.3" r="1.9" fill="#000" stroke="none" stroke-width="1"/>
<circle cx="202.1" cy="81.5" r="1.9" fill="#000" stroke="none" stroke-width="1"/>
<circle cx="204.6" cy="86.8" r="1.9" fill="#000" stroke="none" stroke-width="1"/>
<circle cx="206" cy="91.9" r="1.9" fill="#000" stroke="none" stroke-width="1"/>
<circle cx="208.4" cy="99.3" r="1.9" fill="#000" stroke="none" stroke-width="1"/>
<circle cx="210.9" cy="106.1" r="1.9" fill="#000" stroke="none" stroke-width="1"/>
<circle cx="213.2" cy="113.3" r="1.9" fill="#000" stroke="none" stroke-width="1"/>
<circle cx="215.6" cy="120.5" r="1.9" fill="#000" stroke="none" stroke-width="1"/>
<circle cx="218.2" cy="135.9" r="1.9" fill="#000" stroke="none" stroke-width="1"/>
<circle cx="221.8" cy="149.9" r="1.9" fill="#000" stroke="none" stroke-width="1"/>
<circle cx="225.2" cy="160.5" r="1.9" fill="#000" stroke="none" stroke-width="1"/>
<circle cx="228.8" cy="168.8" r="1.9" fill="#000" stroke="none" stroke-width="1"/>
<circle cx="232.2" cy="172.3" r="1.9" fill="#000" stroke="none" stroke-width="1"/>
<circle cx="237.2" cy="176.3" r="1.9" fill="#000" stroke="none" stroke-width="1"/>
<circle cx="244.2" cy="179.8" r="1.9" fill="#000" stroke="none" stroke-width="1"/>
<circle cx="253" cy="183.3" r="1.9" fill="#000" stroke="none" stroke-width="1"/>
<circle cx="258.2" cy="184.8" r="1.9" fill="#000" stroke="none" stroke-width="1"/>
<circle cx="265.2" cy="185.9" r="1.9" fill="#000" stroke="none" stroke-width="1"/>
<circle cx="271.2" cy="187.3" r="1.9" fill="#000" stroke="none" stroke-width="1"/>
<circle cx="276.7" cy="188.5" r="1.9" fill="#000" stroke="none" stroke-width="1"/>
<circle cx="278.7" cy="189.1" r="1.9" fill="#000" stroke="none" stroke-width="1"/>
<polyline points="237.2,176.5 238.42,177.13 240.15,178.03 242.16,179.04 244.2,180 246.36,180.92 248.71,181.88 251.01,182.77 253,183.5 254.51,184.02 255.71,184.4 256.86,184.7 258.2,185 259.85,185.3 261.65,185.56 263.48,185.81 265.2,186.1 266.78,186.43 268.29,186.79 269.76,187.16 271.2,187.5 272.69,187.83 274.2,188.15 275.58,188.45 276.7,188.7 277.49,188.91 278.04,189.07 278.42,189.21 278.7,189.3" fill="none" stroke="#000" stroke-width="2.6" stroke-linejoin="round" stroke-linecap="round"/>
<polyline points="184.9,31.7 186.08,33 187.77,34.86 189.65,36.94 191.4,38.9 193.03,40.75 194.67,42.65 196.2,44.45 197.5,46 198.39,47.07 198.99,47.79 199.6,48.62 200.5,50 201.79,52.13 203.29,54.73 204.96,57.6 206.7,60.5 208.6,63.37 210.66,66.32 212.71,69.44 214.6,72.8 216.27,76.59 217.81,80.7 219.27,84.81 220.7,88.6 222.17,91.92 223.62,94.97 224.95,97.91 226,100.9 226.68,103.94 227.07,106.94 227.35,110.01 227.7,113.2 228.08,116.55 228.43,120.01 228.86,123.56 229.5,127.2 230.4,130.9 231.49,134.68 232.68,138.56 233.9,142.6 235.1,146.93 236.34,151.49 237.65,156 239.1,160.2 240.56,164.11 242.06,167.84 243.82,171.26 246.1,174.2 249,176.57 252.38,178.47 256.1,180.06 260,181.5 264.57,182.83 269.72,183.96 274.43,184.86 277.7,185.5" fill="none" stroke="#4f8f18" stroke-width="1.4" stroke-linejoin="round" stroke-linecap="round"/>
<circle cx="184.9" cy="31.7" r="1.5" fill="#3f8a10" stroke="none" stroke-width="1"/>
<circle cx="191.4" cy="38.9" r="1.5" fill="#3f8a10" stroke="none" stroke-width="1"/>
<circle cx="197.5" cy="46" r="1.5" fill="#3f8a10" stroke="none" stroke-width="1"/>
<circle cx="200.5" cy="50" r="1.5" fill="#3f8a10" stroke="none" stroke-width="1"/>
<circle cx="206.7" cy="60.5" r="1.5" fill="#3f8a10" stroke="none" stroke-width="1"/>
<circle cx="214.6" cy="72.8" r="1.5" fill="#3f8a10" stroke="none" stroke-width="1"/>
<circle cx="220.7" cy="88.6" r="1.5" fill="#3f8a10" stroke="none" stroke-width="1"/>
<circle cx="226" cy="100.9" r="1.5" fill="#3f8a10" stroke="none" stroke-width="1"/>
<circle cx="227.7" cy="113.2" r="1.5" fill="#3f8a10" stroke="none" stroke-width="1"/>
<circle cx="229.5" cy="127.2" r="1.5" fill="#3f8a10" stroke="none" stroke-width="1"/>
<circle cx="233.9" cy="142.6" r="1.5" fill="#3f8a10" stroke="none" stroke-width="1"/>
<circle cx="239.1" cy="160.2" r="1.5" fill="#3f8a10" stroke="none" stroke-width="1"/>
<circle cx="246.1" cy="174.2" r="1.5" fill="#3f8a10" stroke="none" stroke-width="1"/>
<circle cx="260" cy="181.5" r="1.5" fill="#3f8a10" stroke="none" stroke-width="1"/>
<circle cx="277.7" cy="185.5" r="1.5" fill="#3f8a10" stroke="none" stroke-width="1"/>
<polyline points="169.9,24.6 171.35,25.65 173.43,27.16 175.77,28.86 178,30.5 180.15,32.06 182.36,33.66 184.47,35.26 186.3,36.8 187.73,38.26 188.89,39.66 189.92,41.05 191,42.5 192.16,44.02 193.32,45.59 194.45,47.17 195.5,48.7 196.45,50.17 197.33,51.61 198.16,53.05 199,54.5 199.79,55.88 200.54,57.21 201.35,58.68 202.3,60.5 203.46,62.77 204.78,65.36 206.15,68.14 207.5,71 208.82,73.99 210.15,77.14 211.48,80.3 212.8,83.3 214.1,86.07 215.4,88.71 216.7,91.3 218,93.9 219.39,96.6 220.84,99.34 222.19,101.98 223.3,104.4 224.07,106.48 224.61,108.33 225.04,110.1 225.5,112 226,114.01 226.47,116.07 226.96,118.21 227.5,120.5 228.09,122.9 228.7,125.4 229.39,128.07 230.2,131 231.18,134.27 232.29,137.83 233.46,141.5 234.6,145.1 235.77,148.73 236.98,152.43 238.1,155.96 239,159.1 239.45,161.69 239.59,163.88 239.81,165.9 240.5,168 241.82,170.31 243.54,172.68 245.49,174.91 247.5,176.8 249.58,178.25 251.79,179.38 254.06,180.32 256.3,181.2 258.52,182.02 260.76,182.72 262.95,183.34 265,183.9 266.89,184.39 268.67,184.81 270.36,185.17 272,185.5 273.71,185.82 275.44,186.1 276.95,186.33 278,186.5" fill="none" stroke="#2cf02c" stroke-width="1.6" stroke-linejoin="round" stroke-linecap="round"/>
<circle cx="169.9" cy="24.6" r="1.6" fill="#1ef01e" stroke="none" stroke-width="1"/>
<circle cx="178" cy="30.5" r="1.6" fill="#1ef01e" stroke="none" stroke-width="1"/>
<circle cx="186.3" cy="36.8" r="1.6" fill="#1ef01e" stroke="none" stroke-width="1"/>
<circle cx="191" cy="42.5" r="1.6" fill="#1ef01e" stroke="none" stroke-width="1"/>
<circle cx="195.5" cy="48.7" r="1.6" fill="#1ef01e" stroke="none" stroke-width="1"/>
<circle cx="199" cy="54.5" r="1.6" fill="#1ef01e" stroke="none" stroke-width="1"/>
<circle cx="202.3" cy="60.5" r="1.6" fill="#1ef01e" stroke="none" stroke-width="1"/>
<circle cx="207.5" cy="71" r="1.6" fill="#1ef01e" stroke="none" stroke-width="1"/>
<circle cx="212.8" cy="83.3" r="1.6" fill="#1ef01e" stroke="none" stroke-width="1"/>
<circle cx="218" cy="93.9" r="1.6" fill="#1ef01e" stroke="none" stroke-width="1"/>
<circle cx="223.3" cy="104.4" r="1.6" fill="#1ef01e" stroke="none" stroke-width="1"/>
<circle cx="225.5" cy="112" r="1.6" fill="#1ef01e" stroke="none" stroke-width="1"/>
<circle cx="227.5" cy="120.5" r="1.6" fill="#1ef01e" stroke="none" stroke-width="1"/>
<circle cx="230.2" cy="131" r="1.6" fill="#1ef01e" stroke="none" stroke-width="1"/>
<circle cx="234.6" cy="145.1" r="1.6" fill="#1ef01e" stroke="none" stroke-width="1"/>
<circle cx="239" cy="159.1" r="1.6" fill="#1ef01e" stroke="none" stroke-width="1"/>
<circle cx="240.5" cy="168" r="1.6" fill="#1ef01e" stroke="none" stroke-width="1"/>
<circle cx="247.5" cy="176.8" r="1.6" fill="#1ef01e" stroke="none" stroke-width="1"/>
<circle cx="256.3" cy="181.2" r="1.6" fill="#1ef01e" stroke="none" stroke-width="1"/>
<circle cx="265" cy="183.9" r="1.6" fill="#1ef01e" stroke="none" stroke-width="1"/>
<circle cx="272" cy="185.5" r="1.6" fill="#1ef01e" stroke="none" stroke-width="1"/>
<circle cx="278" cy="186.5" r="1.6" fill="#1ef01e" stroke="none" stroke-width="1"/>
<polyline points="138.6,9.6 139.84,9.92 141.52,10.34 143.53,10.86 145.77,11.43 148.12,12.05 150.5,12.7 152.98,13.37 155.68,14.1 158.49,14.86 161.34,15.67 164.14,16.52 166.8,17.4 169.36,18.35 171.9,19.36 174.38,20.42 176.78,21.48 179.07,22.52 181.2,23.5 183.19,24.41 185.06,25.27 186.82,26.1 188.46,26.93 189.99,27.79 191.4,28.7 192.67,29.65 193.78,30.63 194.78,31.62 195.7,32.65 196.59,33.71 197.5,34.8 198.42,35.93 199.31,37.09 200.18,38.28 201,39.5 201.78,40.74 202.5,42 203.13,43.18 203.66,44.26 204.14,45.36 204.62,46.6 205.16,48.11 205.8,50 206.6,52.42 207.54,55.31 208.53,58.47 209.49,61.69 210.34,64.76 211,67.5 211.43,69.85 211.69,71.96 211.84,73.93 211.94,75.86 212.08,77.85 212.3,80 212.61,82.31 212.97,84.71 213.34,87.17 213.73,89.66 214.12,92.14 214.5,94.6 214.86,97.07 215.21,99.57 215.56,102.08 215.91,104.55 216.29,106.93 216.7,109.2 217.14,111.34 217.6,113.39 218.09,115.36 218.59,117.26 219.09,119.11 219.6,120.9 220.08,122.6 220.52,124.2 220.97,125.74 221.48,127.27 222.07,128.84 222.8,130.5 223.67,132.27 224.66,134.1 225.74,135.98 226.89,137.87 228.08,139.76 229.3,141.6 230.56,143.43 231.89,145.27 233.26,147.1 234.66,148.9 236.08,150.64 237.5,152.3 238.93,153.87 240.37,155.36 241.83,156.8 243.31,158.2 244.8,159.6 246.3,161 247.83,162.43 249.4,163.86 250.98,165.29 252.55,166.68 254.1,168.03 255.6,169.3 257.07,170.49 258.51,171.62 259.94,172.7 261.33,173.74 262.69,174.77 264,175.8 265.25,176.8 266.43,177.75 267.57,178.69 268.71,179.64 269.88,180.63 271.1,181.7 272.38,182.86 273.7,184.1 275.04,185.38 276.39,186.68 277.75,187.96 279.1,189.2 280.45,190.4 281.8,191.59 283.15,192.77 284.5,193.93 285.85,195.07 287.2,196.2 288.54,197.31 289.87,198.41 291.19,199.49 292.52,200.55 293.86,201.59 295.2,202.6 296.65,203.64 298.22,204.73 299.8,205.8 301.27,206.78 302.51,207.6 303.4,208.2" fill="none" stroke="#a01414" stroke-width="1.6" stroke-linejoin="round" stroke-linecap="round"/>
<polyline points="138.6,9.6 139.8,9.77 141.37,9.99 143.27,10.26 145.46,10.57 147.89,10.92 150.5,11.3 153.45,11.74 156.82,12.24 160.42,12.78 164.08,13.33 167.63,13.84 170.9,14.3 173.97,14.7 176.99,15.07 179.89,15.41 182.63,15.73 185.12,16.02 187.3,16.3 189.07,16.53 190.47,16.7 191.63,16.86 192.67,17.02 193.75,17.22 195,17.5 196.41,17.86 197.88,18.29 199.38,18.76 200.89,19.24 202.37,19.73 203.8,20.2 205.2,20.64 206.6,21.06 207.98,21.47 209.32,21.91 210.6,22.38 211.8,22.9 212.91,23.47 213.93,24.07 214.89,24.7 215.82,25.37 216.75,26.07 217.7,26.8 218.71,27.56 219.75,28.33 220.79,29.14 221.79,29.99 222.7,30.91 223.5,31.9 224.15,32.97 224.68,34.11 225.12,35.32 225.53,36.57 225.94,37.87 226.4,39.2 226.9,40.55 227.43,41.91 227.95,43.33 228.46,44.8 228.95,46.35 229.4,48 229.81,49.8 230.18,51.74 230.53,53.76 230.86,55.8 231.18,57.8 231.5,59.7 231.81,61.5 232.12,63.25 232.42,64.96 232.7,66.64 232.96,68.32 233.2,70 233.41,71.63 233.59,73.19 233.76,74.73 233.91,76.34 234.05,78.07 234.2,80 234.35,82.17 234.49,84.53 234.62,87.01 234.75,89.56 234.87,92.11 235,94.6 235.11,97.07 235.21,99.57 235.31,102.08 235.41,104.55 235.54,106.93 235.7,109.2 235.88,111.37 236.07,113.47 236.28,115.49 236.53,117.41 236.83,119.22 237.2,120.9 237.62,122.38 238.09,123.66 238.61,124.83 239.19,125.97 239.85,127.17 240.6,128.5 241.47,129.98 242.46,131.54 243.52,133.16 244.63,134.8 245.73,136.46 246.8,138.1 247.82,139.74 248.84,141.39 249.85,143.06 250.87,144.72 251.92,146.37 253,148 254.13,149.63 255.31,151.27 256.51,152.9 257.71,154.5 258.88,156.04 260,157.5 261.02,158.82 261.95,160 262.85,161.12 263.79,162.27 264.81,163.54 266,165 267.35,166.7 268.81,168.57 270.36,170.56 271.99,172.6 273.68,174.63 275.4,176.6 277.18,178.52 279.05,180.45 280.97,182.37 282.93,184.27 284.88,186.15 286.8,188 288.76,189.87 290.81,191.77 292.85,193.65 294.81,195.44 296.62,197.08 298.2,198.5 299.56,199.71 300.76,200.76 301.81,201.66 302.7,202.41 303.43,203.02 304,203.5" fill="none" stroke="#a01414" stroke-width="1.6" stroke-linejoin="round" stroke-linecap="round"/>
<line x1="231" y1="38" x2="292" y2="38" stroke="#a01414" stroke-width="1.3"/>
<polygon points="299.8,38 289,33.6 291.5,38 289,42.4" fill="#a01414" stroke="none" stroke-width="1"/>
<polyline points="40,79.63 40.5,79.66 41,80 41.5,80.63 42,81.52 42.5,82.64 43,83.91 43.5,85.29 44,86.71 44.5,88.09 45,89.36 45.5,90.48 46,91.37 46.5,92 47,92.34 47.5,92.37 48,92.1 48.5,91.52 49,90.67 49.5,89.6 50,88.35 50.5,86.99 51,85.58 51.5,84.18 52,82.88 52.5,81.73 53,80.79 53.5,80.1 54,79.7 54.5,79.61 55,79.82 55.5,80.34 56,81.14 56.5,82.17 57,83.39 57.5,84.73 58,86.14 58.5,87.54 59,88.87 59.5,90.05 60,91.04 60.5,91.78 61,92.24 61.5,92.4 62,92.24 62.5,91.78 63,91.04 63.5,90.05 64,88.87 64.5,87.54 65,86.14 65.5,84.73 66,83.39 66.5,82.17 67,81.14 67.5,80.34 68,79.82 68.5,79.61 69,79.7 69.5,80.1 70,80.79 70.5,81.73 71,82.88 71.5,84.18 72,85.58 72.5,86.99 73,88.35 73.5,89.6 74,90.67 74.5,91.52 75,92.1 75.5,92.37 76,92.34 76.5,92 77,91.37 77.5,90.48 78,89.36 78.5,88.09 79,86.71 79.5,85.29 80,83.91 80.5,82.64 81,81.52 81.5,80.63 82,80 82.5,79.66 83,79.63 83.5,79.9 84,80.48 84.5,81.33 85,82.4 85.5,83.65 86,85.01 86.5,86.42 87,87.82 87.5,89.12 88,90.27 88.5,91.21 89,91.9 89.5,92.3 90,92.39 90.5,92.18 91,91.66 91.5,90.86 92,89.83 92.5,88.61 93,87.27 93.5,85.86 94,84.46 94.5,83.13 95,81.95 95.5,80.96 96,80.22 96.5,79.76 97,79.6 97.5,79.76 98,80.22 98.5,80.96 99,81.95 99.5,83.13 100,84.46 100.5,85.86 101,87.27 101.5,88.61" fill="none" stroke="#116b57" stroke-width="1.8" stroke-linejoin="round" stroke-linecap="round"/>
<text x="41.1" y="76.38" font-size="8" font-weight="bold" text-anchor="start" fill="#1e1e1e" textLength="46" lengthAdjust="spacingAndGlyphs" stroke="#1e1e1e" stroke-width="0.42">Incident Light</text>
<text x="87.5" y="37.35" font-size="8.2" font-weight="bold" text-anchor="middle" fill="#000" textLength="25" lengthAdjust="spacingAndGlyphs" stroke="#000" stroke-width="0.42">Applied</text>
<text x="88.7" y="47.15" font-size="8.2" font-weight="bold" text-anchor="middle" fill="#000" textLength="21.2" lengthAdjust="spacingAndGlyphs" stroke="#000" stroke-width="0.42">Stress</text>
<polygon points="92.5,50.8 102.3,59.7 102.3,107.2 92.5,107.2" fill="#8f8150" stroke="none" stroke-width="1"/>
<polyline points="92.5,88.61 93,87.27 93.5,85.86 94,84.46 94.5,83.13 95,81.95 95.5,80.96 96,80.22 96.5,79.76 97,79.6 97.5,79.76 98,80.22 98.5,80.96 99,81.95 99.5,83.13 100,84.46 100.5,85.86 101,87.27 101.5,88.61 102,89.83" fill="none" stroke="#1a7060" stroke-width="1.4" stroke-linejoin="round" stroke-linecap="round" opacity="0.7"/>
<polygon points="92.5,107 102.3,107 102.3,115.8" fill="#a4aab0" stroke="none" stroke-width="1"/>
<polygon points="96.5,107 102.3,107 102.3,115.8 99.5,113.3" fill="#8c9298" stroke="none" stroke-width="1"/>
<polygon points="92.5,50.8 110.8,50.8 120.6,59.7 102.3,59.7" fill="#e3c88c" stroke="none" stroke-width="1"/>
<rect x="102.3" y="59.7" width="18.3" height="56.1" fill="#e69a1c" stroke="none" stroke-width="1"/>
<line x1="120.6" y1="59.7" x2="120.6" y2="115.8" stroke="#c07a10" stroke-width="0.6"/>
<polyline points="121.3,87.61 121.8,88.18 122.3,88.64 122.8,88.97 123.3,89.16 123.8,89.19 124.3,89.07 124.8,88.79 125.3,88.37 125.8,87.85 126.3,87.23 126.8,86.57 127.3,85.89 127.8,85.24 128.3,84.64 128.8,84.13 129.3,83.74 129.8,83.5 130.3,83.4 130.8,83.46 131.3,83.68 131.8,84.04 132.3,84.53 132.8,85.11 133.3,85.76 133.8,86.44 134.3,87.11 134.8,87.73 135.3,88.28 135.8,88.72 136.3,89.02 136.8,89.18 137.3,89.18 137.8,89.02 138.3,88.72 138.8,88.28 139.3,87.73 139.8,87.11 140.3,86.44 140.8,85.76 141.3,85.11 141.8,84.53 142.3,84.04 142.8,83.68 143.3,83.46 143.8,83.4 144.3,83.5 144.8,83.74 145.3,84.13 145.8,84.64 146.3,85.24 146.8,85.89 147.3,86.57 147.8,87.23 148.3,87.85 148.8,88.37 149.3,88.79 149.8,89.07 150.3,89.19 150.8,89.16 151.3,88.97 151.8,88.64 152.3,88.18 152.8,87.61 153.3,86.97 153.8,86.3 154.3,85.63 154.8,84.99 155.3,84.42 155.8,83.96 156.3,83.63 156.8,83.44 157.3,83.41 157.8,83.53 158.3,83.81 158.8,84.23 159.3,84.75 159.8,85.37 160.3,86.03 160.8,86.71 161.3,87.36 161.8,87.96 162.3,88.47 162.8,88.86 163.3,89.1 163.8,89.2 164.3,89.14 164.8,88.92 165.3,88.56 165.8,88.07 166.3,87.49 166.8,86.84 167.3,86.16 167.8,85.49 168.3,84.87 168.8,84.32 169.3,83.88 169.8,83.58 170.3,83.42 170.8,83.42 171.3,83.58 171.8,83.88 172.3,84.32 172.8,84.87 173.3,85.49 173.8,86.16 174.3,86.84 174.8,87.49 175.3,88.07 175.8,88.56 176.3,88.92 176.8,89.14 177.3,89.2" fill="none" stroke="#116b57" stroke-width="1.8" stroke-linejoin="round" stroke-linecap="round"/>
<text x="122.8" y="97.22" font-size="8.4" font-weight="bold" text-anchor="start" fill="#000" textLength="58" lengthAdjust="spacingAndGlyphs" stroke="#000" stroke-width="0.42">Transmitted Light</text>
<text x="110.6" y="104.5" font-size="8.6" font-weight="bold" text-anchor="middle" fill="#000" textLength="11" lengthAdjust="spacingAndGlyphs" stroke="#000" stroke-width="0.42">Au</text>
<circle cx="111" cy="108.9" r="2.6" fill="#000" stroke="none" stroke-width="1"/>
<polyline points="111,108.9 90.8,108.9 90.8,127.6 86.5,127.6" fill="none" stroke="#222" stroke-width="0.9" stroke-linejoin="round" stroke-linecap="round"/>
<polyline points="93,101.5 62.2,101.5 62.2,117.9 66,117.9" fill="none" stroke="#222" stroke-width="0.9" stroke-linejoin="round" stroke-linecap="round"/>
<polygon points="67.8,117.9 64.6,116.2 64.6,119.6" fill="#222" stroke="none" stroke-width="1"/>
<polygon points="84.3,127.2 87.5,125.5 87.5,128.9" fill="#222" stroke="none" stroke-width="1"/>
<circle cx="76.3" cy="123.4" r="8.2" fill="#fff" stroke="#111" stroke-width="1"/>
<text x="76.3" y="126.28" font-size="8" font-weight="bold" text-anchor="middle" fill="#000" textLength="9.6" lengthAdjust="spacingAndGlyphs" stroke="#000" stroke-width="0.42">-V</text>
<rect x="104" y="28.2" width="5.6" height="11" fill="#000" stroke="none" stroke-width="1"/>
<polygon points="100.2,38.7 113.6,38.7 106.8,57" fill="#000" stroke="none" stroke-width="1"/>
<polygon points="106.1,116.4 99.5,130.2 113,130.2" fill="#000" stroke="none" stroke-width="1"/>
<rect x="102.8" y="129.8" width="6.6" height="11.4" fill="#000" stroke="none" stroke-width="1"/>
<line x1="123.1" y1="59.3" x2="123.1" y2="34" stroke="#000" stroke-width="1"/>
<polygon points="123.1,30.8 121.1,35.8 125.1,35.8" fill="#000" stroke="none" stroke-width="1"/>
<line x1="123.1" y1="59.3" x2="148.5" y2="59.3" stroke="#000" stroke-width="1"/>
<polygon points="152,59.3 147,57.3 147,61.3" fill="#000" stroke="none" stroke-width="1"/>
<line x1="123.1" y1="59.3" x2="132" y2="70" stroke="#000" stroke-width="1"/>
<polygon points="134.2,72.6 129.8,70.4 132.8,67.9" fill="#000" stroke="none" stroke-width="1"/>
<text x="123.3" y="28.84" font-size="6.5" font-weight="bold" text-anchor="middle" fill="#000" textLength="14" lengthAdjust="spacingAndGlyphs" stroke="#000" stroke-width="0.42">[100]</text>
<text x="152.3" y="62.74" font-size="6.5" font-weight="bold" text-anchor="start" fill="#000" textLength="14" lengthAdjust="spacingAndGlyphs" stroke="#000" stroke-width="0.42">[011]</text>
<line x1="162" y1="56.4" x2="164.2" y2="56.4" stroke="#000" stroke-width="0.6"/>
<text x="136.6" y="78.64" font-size="6.5" font-weight="bold" text-anchor="middle" fill="#000" textLength="14" lengthAdjust="spacingAndGlyphs" stroke="#000" stroke-width="0.42">[011]</text>
<rect x="50.1" y="150.1" width="134.8" height="41.2" fill="#fff" stroke="#333" stroke-width="0.9"/>
<text x="110.9" y="159.04" font-size="7.6" font-weight="bold" text-anchor="middle" fill="#000" textLength="71" lengthAdjust="spacingAndGlyphs" stroke="#000" stroke-width="0.42">Applied Electric Field</text>
<line x1="52" y1="163.7" x2="148.5" y2="163.7" stroke="#9a9a9a" stroke-width="0.9" stroke-dasharray="3.5,2.5"/>
<line x1="52" y1="174.7" x2="148.5" y2="174.7" stroke="#2ad42a" stroke-width="1.1" stroke-dasharray="3.5,2.5"/>
<line x1="52" y1="184.3" x2="148.5" y2="184.3" stroke="#333" stroke-width="1" stroke-dasharray="3.5,2.5"/>
<polyline points="59.5,163.7 60,163.74 60.5,163.88 61,164.09 61.5,164.4 62,164.78 62.5,165.24 63,165.78 63.5,166.39 64,167.06 64.5,167.79 65,168.58 65.5,169.41 66,170.28 66.5,171.18 67,172.11 67.5,173.05 68,174 68.5,174.95 69,175.89 69.5,176.82 70,177.72 70.5,178.59 71,179.42 71.5,180.21 72,180.94 72.5,181.61 73,182.22 73.5,182.76 74,183.22 74.5,183.6 75,183.91 75.5,184.12 76,184.26 76.5,184.3 77,184.26 77.5,184.12 78,183.91 78.5,183.6 79,183.22 79.5,182.76 80,182.22 80.5,181.61 81,180.94 81.5,180.21 82,179.42 82.5,178.59 83,177.72 83.5,176.82 84,175.89 84.5,174.95 85,174 85.5,173.05 86,172.11 86.5,171.18 87,170.28 87.5,169.41 88,168.58 88.5,167.79 89,167.06 89.5,166.39 90,165.78 90.5,165.24 91,164.78 91.5,164.4 92,164.09 92.5,163.88 93,163.74 93.5,163.7 94,163.74 94.5,163.88 95,164.09 95.5,164.4 96,164.78 96.5,165.24 97,165.78 97.5,166.39 98,167.06 98.5,167.79 99,168.58 99.5,169.41 100,170.28 100.5,171.18 101,172.11 101.5,173.05 102,174 102.5,174.95 103,175.89 103.5,176.82 104,177.72 104.5,178.59 105,179.42 105.5,180.21 106,180.94 106.5,181.61 107,182.22 107.5,182.76 108,183.22 108.5,183.6 109,183.91 109.5,184.12 110,184.26 110.5,184.3 111,184.26 111.5,184.12 112,183.91 112.5,183.6 113,183.22 113.5,182.76 114,182.22 114.5,181.61 115,180.94 115.5,180.21 116,179.42 116.5,178.59 117,177.72 117.5,176.82 118,175.89 118.5,174.95 119,174 119.5,173.05 120,172.11 120.5,171.18 121,170.28 121.5,169.41 122,168.58 122.5,167.79 123,167.06 123.5,166.39 124,165.78 124.5,165.24 125,164.78 125.5,164.4 126,164.09 126.5,163.88 127,163.74 127.5,163.7 128,163.74 128.5,163.88 129,164.09 129.5,164.4 130,164.78 130.5,165.24 131,165.78 131.5,166.39 132,167.06 132.5,167.79 133,168.58 133.5,169.41 134,170.28 134.5,171.18 135,172.11 135.5,173.05 136,174 136.5,174.95 137,175.89 137.5,176.82 138,177.72 138.5,178.59 139,179.42 139.5,180.21 140,180.94 140.5,181.61 141,182.22 141.5,182.76 142,183.22 142.5,183.6 143,183.91 143.5,184.12 144,184.26 144.5,184.3 145,184.26" fill="none" stroke="#6a6a6a" stroke-width="0.9" stroke-linejoin="round" stroke-linecap="round"/>
<circle cx="59.5" cy="163.7" r="2" fill="#8a8a8a" stroke="none" stroke-width="1"/>
<circle cx="76.5" cy="184.3" r="2.1" fill="#000" stroke="none" stroke-width="1"/>
<circle cx="93.5" cy="163.7" r="2" fill="#8a8a8a" stroke="none" stroke-width="1"/>
<circle cx="110.5" cy="184.3" r="2.1" fill="#000" stroke="none" stroke-width="1"/>
<circle cx="127.5" cy="163.7" r="2" fill="#8a8a8a" stroke="none" stroke-width="1"/>
<circle cx="144.5" cy="184.3" r="2.1" fill="#000" stroke="none" stroke-width="1"/>
<circle cx="68" cy="174.4" r="2" fill="#2ee82e" stroke="none" stroke-width="1"/>
<circle cx="85" cy="174.4" r="2" fill="#2ee82e" stroke="none" stroke-width="1"/>
<circle cx="102" cy="174.4" r="2" fill="#2ee82e" stroke="none" stroke-width="1"/>
<circle cx="119" cy="174.4" r="2" fill="#2ee82e" stroke="none" stroke-width="1"/>
<circle cx="136" cy="174.4" r="2" fill="#2ee82e" stroke="none" stroke-width="1"/>
<text x="152.5" y="166.4" font-size="7.5" font-weight="bold" text-anchor="start" fill="#000" textLength="27.8" lengthAdjust="spacingAndGlyphs" stroke="#000" stroke-width="0.42">+ E Field</text>
<text x="152.1" y="177.4" font-size="7.5" font-weight="bold" text-anchor="start" fill="#000" textLength="28.1" lengthAdjust="spacingAndGlyphs" stroke="#000" stroke-width="0.42">0 E Field</text>
<text x="152.5" y="187.1" font-size="7.5" font-weight="bold" text-anchor="start" fill="#000" textLength="27.7" lengthAdjust="spacingAndGlyphs" stroke="#000" stroke-width="0.42">- E Field</text>
<rect x="51.2" y="242.2" width="51.2" height="96.9" fill="#8fd1ef" stroke="none" stroke-width="1"/>
<rect x="102.4" y="242.2" width="104.2" height="96.9" fill="#e3cbb2" stroke="none" stroke-width="1"/>
<rect x="206.6" y="242.2" width="89.8" height="96.9" fill="#8fd1ef" stroke="none" stroke-width="1"/>
<polyline points="53.3,291.85 53.9,291.13 54.5,290.41 55.1,289.69 55.7,288.97 56.3,288.25 56.9,287.53 57.5,286.82 58.1,286.1 58.7,285.39 59.3,284.68 59.9,283.97 60.5,283.26 61.1,282.55 61.7,281.85 62.3,281.15 62.9,280.45 63.5,279.75 64.1,279.06 64.7,278.37 65.3,277.68 65.9,277 66.5,276.32 67.1,275.64 67.7,274.97 68.3,274.3 68.9,273.64 69.5,272.98 70.1,272.33 70.7,271.68 71.3,271.03 71.9,270.39 72.5,269.76 73.1,269.13 73.7,268.51 74.3,267.89 74.9,267.28 75.5,266.67 76.1,266.08 76.7,265.48 77.3,264.9 77.9,264.32 78.5,263.75 79.1,263.18 79.7,262.62 80.3,262.07 80.9,261.53 81.5,260.99 82.1,260.46 82.7,259.94 83.3,259.43 83.9,258.92 84.5,258.42 85.1,257.93 85.7,257.45 86.3,256.98 86.9,256.52 87.5,256.06 88.1,255.62 88.7,255.18 89.3,254.75 89.9,254.33 90.5,253.92 91.1,253.52 91.7,253.13 92.3,252.75 92.9,252.38 93.5,252.02 94.1,251.67 94.7,251.32 95.3,250.99 95.9,250.67 96.5,250.36 97.1,250.06 97.7,249.77 98.3,249.49 98.9,249.22 99.5,248.96 100.1,248.71 100.7,248.47 101.3,248.24 101.9,248.02 102.5,247.82 103.1,247.62 103.7,247.44 104.3,247.26 104.9,247.1 105.5,246.95 106.1,246.81 106.7,246.68 107.3,246.56 107.9,246.45 108.5,246.36 109.1,246.27 109.7,246.2 110.3,246.14 110.9,246.09 111.5,246.05 112.1,246.02 112.7,246 113.3,246 113.9,246 114.5,246.02 115.1,246.05 115.7,246.09 116.3,246.14 116.9,246.2 117.5,246.27 118.1,246.36 118.7,246.45 119.3,246.56 119.9,246.68 120.5,246.81 121.1,246.95 121.7,247.1 122.3,247.26 122.9,247.44 123.5,247.62 124.1,247.82 124.7,248.02 125.3,248.24 125.9,248.47 126.5,248.71 127.1,248.96 127.7,249.22 128.3,249.49 128.9,249.77 129.5,250.06 130.1,250.36 130.7,250.67 131.3,250.99 131.9,251.32 132.5,251.67 133.1,252.02 133.7,252.38 134.3,252.75 134.9,253.13 135.5,253.52 136.1,253.92 136.7,254.33 137.3,254.75 137.9,255.18 138.5,255.62 139.1,256.06 139.7,256.52 140.3,256.98 140.9,257.45 141.5,257.93 142.1,258.42 142.7,258.92 143.3,259.43 143.9,259.94 144.5,260.46 145.1,260.99 145.7,261.53 146.3,262.07 146.9,262.62 147.5,263.18 148.1,263.75 148.7,264.32 149.3,264.9 149.9,265.48 150.5,266.08 151.1,266.67 151.7,267.28 152.3,267.89 152.9,268.51 153.5,269.13 154.1,269.76 154.7,270.39 155.3,271.03 155.9,271.68 156.5,272.33 157.1,272.98 157.7,273.64 158.3,274.3 158.9,274.97 159.5,275.64 160.1,276.32 160.7,277 161.3,277.68 161.9,278.37 162.5,279.06 163.1,279.75 163.7,280.45 164.3,281.15 164.9,281.85 165.5,282.55 166.1,283.26 166.7,283.97 167.3,284.68 167.9,285.39 168.5,286.1 169.1,286.82 169.7,287.53 170.3,288.25 170.9,288.97 171.5,289.69 172.1,290.41 172.7,291.13 173.3,291.85 173.9,292.57 174.5,293.29 175.1,294.01 175.7,294.73 176.3,295.45 176.9,296.17 177.5,296.88 178.1,297.6 178.7,298.31 179.3,299.02 179.9,299.73 180.5,300.44 181.1,301.15 181.7,301.85 182.3,302.55 182.9,303.25 183.5,303.95 184.1,304.64 184.7,305.33 185.3,306.02 185.9,306.7 186.5,307.38 187.1,308.06 187.7,308.73 188.3,309.4 188.9,310.06 189.5,310.72 190.1,311.37 190.7,312.02 191.3,312.67 191.9,313.31 192.5,313.94 193.1,314.57 193.7,315.19 194.3,315.81 194.9,316.42 195.5,317.03 196.1,317.62 196.7,318.22 197.3,318.8 197.9,319.38 198.5,319.95 199.1,320.52 199.7,321.08 200.3,321.63 200.9,322.17 201.5,322.71 202.1,323.24 202.7,323.76 203.3,324.27 203.9,324.78 204.5,325.28 205.1,325.77 205.7,326.25 206.3,326.72 206.9,327.18 207.5,327.64 208.1,328.08 208.7,328.52 209.3,328.95 209.9,329.37 210.5,329.78 211.1,330.18 211.7,330.57 212.3,330.95 212.9,331.32 213.5,331.68 214.1,332.03 214.7,332.38 215.3,332.71 215.9,333.03 216.5,333.34 217.1,333.64 217.7,333.93 218.3,334.21 218.9,334.48 219.5,334.74 220.1,334.99 220.7,335.23 221.3,335.46 221.9,335.68 222.5,335.88 223.1,336.08 223.7,336.26 224.3,336.44 224.9,336.6 225.5,336.75 226.1,336.89 226.7,337.02 227.3,337.14 227.9,337.25 228.5,337.34 229.1,337.43 229.7,337.5 230.3,337.56 230.9,337.61 231.5,337.65 232.1,337.68 232.7,337.7 233.3,337.71 233.9,337.7 234.5,337.68 235.1,337.65 235.7,337.61 236.3,337.56 236.9,337.5 237.5,337.43 238.1,337.34 238.7,337.25 239.3,337.14 239.9,337.02 240.5,336.89 241.1,336.75 241.7,336.6 242.3,336.44 242.9,336.26 243.5,336.08 244.1,335.88 244.7,335.68 245.3,335.46 245.9,335.23 246.5,334.99 247.1,334.74 247.7,334.48 248.3,334.21 248.9,333.93 249.5,333.64 250.1,333.34 250.7,333.03 251.3,332.71 251.9,332.38 252.5,332.03 253.1,331.68 253.7,331.32 254.3,330.95 254.9,330.57 255.5,330.18 256.1,329.78 256.7,329.37 257.3,328.95 257.9,328.52 258.5,328.08 259.1,327.64 259.7,327.18 260.3,326.72 260.9,326.25 261.5,325.77 262.1,325.28 262.7,324.78 263.3,324.27 263.9,323.76 264.5,323.24 265.1,322.71 265.7,322.17 266.3,321.63 266.9,321.08 267.5,320.52 268.1,319.95 268.7,319.38 269.3,318.8 269.9,318.22 270.5,317.62 271.1,317.03 271.7,316.42 272.3,315.81 272.9,315.19 273.5,314.57 274.1,313.94 274.7,313.31 275.3,312.67 275.9,312.02 276.5,311.37 277.1,310.72 277.7,310.06 278.3,309.4 278.9,308.73 279.5,308.06 280.1,307.38 280.7,306.7 281.3,306.02 281.9,305.33 282.5,304.64 283.1,303.95 283.7,303.25 284.3,302.55 284.9,301.85 285.5,301.15 286.1,300.44 286.7,299.73 287.3,299.02 287.9,298.31 288.5,297.6 289.1,296.88 289.7,296.17 290.3,295.45 290.9,294.73 291.5,294.01 292.1,293.29 292.7,292.57 293.3,291.85" fill="none" stroke="#000" stroke-width="4" stroke-linejoin="round" stroke-linecap="round" stroke-linecap="butt"/>
<polyline points="53.3,322.82 54.11,322.8 54.93,322.28 55.74,322.58 56.56,322.08 57.37,322.06 58.18,322.16 59,321.67 59.81,321.88 60.63,321.43 61.44,321.57 62.25,321.41 63.07,321.01 63.88,320.56 64.7,320.95 65.51,320.73 66.32,320.28 67.14,319.89 67.95,320.03 68.77,320.02 69.58,319.43 70.39,320 71.21,319.24 72.02,319.53 72.84,319.5 73.65,319.37 74.46,319.08 75.28,318.55 76.09,318.89 76.91,318.44 77.72,318.25 78.53,318.31 79.35,318.04 80.16,318.26 80.98,318.12 81.79,317.87 82.6,317.36 83.42,317.41 84.23,317.35 85.05,317 85.86,316.96 86.67,316.93 87.49,316.41 88.3,316.34 89.12,316.54 89.93,316.14 90.74,316.04 91.56,315.62 92.37,315.59 93.19,315.79 94,315.11 94.81,315.63 95.63,315.25 96.44,314.85 97.26,315.17 98.07,314.77 98.88,314.97 99.7,314.34 100.51,314.12 101.33,314.13 102.14,313.75" fill="none" stroke="#f01010" stroke-width="3.5" stroke-linejoin="round" stroke-linecap="round" stroke-linecap="butt"/>
<polygon points="102.14,251.36 102.72,251.99 103.3,251.85 103.87,252.81 104.45,252.37 105.03,252.46 105.61,252.98 106.19,251.66 106.76,252.27 107.34,251.8 107.92,251.07 108.5,252.12 109.08,251.07 109.65,252.09 110.23,251.26 110.81,252 111.39,251.96 111.97,251.18 112.54,252.08 113.12,250.85 113.7,251.11 114.28,251.68 114.86,251.4 115.43,251.79 116.01,252.14 116.59,252.42 117.17,252.31 117.75,251.29 118.32,252.55 118.9,252.5 119.48,251.68 120.06,251.99 120.64,250.85 121.21,250.91 121.79,250.61 122.37,250.72 122.95,251.06 123.53,251.98 124.1,250.7 124.68,251.12 125.26,250.81 125.84,252.48 126.42,251.68 126.99,251.11 127.57,251.51 128.15,251.41 128.73,252.89 129.31,251.46 129.88,251.23 130.46,252.9 131.04,252.31 131.62,251.62 132.2,252.23 132.77,252.13 133.35,251.01 133.93,252.29 134.51,251.9 135.09,251.74 135.66,251.33 136.24,250.49 136.82,251 137.4,251.84 137.98,251.51 138.55,252.6 139.13,251.59 139.71,251.45 140.29,251.49 140.87,252.8 141.44,252.06 142.02,252.62 142.6,252.32 143.18,252.46 143.76,251.81 144.33,252.26 144.91,252.16 145.49,251.32 146.07,252.21 146.65,250.75 147.22,250.68 147.8,251.86 148.38,251.93 148.96,251.69 149.54,251.58 150.11,250.73 150.69,252 151.27,252.62 151.85,252.62 152.43,251.51 153,251.71 153.58,252.26 154.16,251.94 154.74,252.77 155.32,251.87 155.89,252.57 156.47,252.48 157.05,251.67 157.63,250.63 158.21,250.84 158.78,251.88 159.36,251.26 159.94,251.41 160.52,251.37 161.1,251.92 161.67,251.61 162.25,251.21 162.83,251.75 163.41,252.32 163.99,251.85 164.56,252.04 165.14,252.43 165.72,252.16 166.3,252.88 166.88,252.7 167.45,251.51 168.03,252.64 168.61,251.07 169.19,251.5 169.77,251.03 170.34,251.71 170.92,252.05 171.5,251.69 172.08,250.66 172.66,252.19 173.23,252.23 173.81,251.49 174.39,252.22 174.97,251.62 175.55,251.57 176.12,251.63 176.7,251.17 177.28,251.98 177.86,251.8 178.44,252.1 179.01,252.9 179.59,252.79 180.17,251.41 180.75,252.22 181.33,250.93 181.9,252.23 182.48,250.96 183.06,252.09 183.64,251.66 184.22,250.51 184.79,251.21 185.37,252.21 185.95,252.06 186.53,252.27 187.11,252.4 187.68,251.57 188.26,252.73 188.84,251.37 189.42,251.62 190,251.49 190.57,251.54 191.15,251.67 191.73,251.56 192.31,251.25 192.89,250.84 193.46,250.72 194.04,251.57 194.62,251.35 195.2,250.62 195.78,251.18 196.35,251.91 196.93,251.36 197.51,252.29 198.09,252.12 198.67,251.88 199.24,251.48 199.82,251.2 200.4,252.4 200.98,251.44 201.56,252.7 202.13,252.41 202.71,251.61 203.29,251.94 203.87,251.83 204.45,252.65 205.02,251.79 205.6,252.42 206.18,251.22 206.18,259.38 205.6,260.04 205.02,260.04 204.45,261.47 203.87,260.3 203.29,260.2 202.71,260.5 202.13,260.51 201.56,261.56 200.98,260.1 200.4,260.33 199.82,259.9 199.24,259.75 198.67,260.26 198.09,260.69 197.51,259.94 196.93,260.49 196.35,259.92 195.78,260.09 195.2,260.7 194.62,260.98 194.04,259.72 193.46,260.81 192.89,260.06 192.31,260.35 191.73,260.73 191.15,261.29 190.57,260.54 190,260.09 189.42,260.18 188.84,260.89 188.26,260.35 187.68,260.76 187.11,260.46 186.53,259.65 185.95,259.57 185.37,260.46 184.79,259.38 184.22,260.45 183.64,259.36 183.06,260.26 182.48,259.57 181.9,260.86 181.33,260.26 180.75,260.1 180.17,259.8 179.59,260.03 179.01,261.34 178.44,260.09 177.86,261.12 177.28,260.02 176.7,260.93 176.12,261.16 175.55,260.11 174.97,260.57 174.39,259.81 173.81,261.19 173.23,260.03 172.66,259.64 172.08,260.79 171.5,260.39 170.92,259.51 170.34,260.71 169.77,259.53 169.19,259.63 168.61,259.84 168.03,261.25 167.45,260.85 166.88,261.62 166.3,261.24 165.72,260.86 165.14,260.8 164.56,260.85 163.99,260.96 163.41,261.39 162.83,260.64 162.25,260.9 161.67,259.85 161.1,259.5 160.52,260.24 159.94,259.79 159.36,260.51 158.78,259.55 158.21,259.31 157.63,260.19 157.05,260.45 156.47,260.53 155.89,260.5 155.32,260.9 154.74,260.57 154.16,260.22 153.58,260.47 153,260.41 152.43,260.38 151.85,261.33 151.27,260.52 150.69,260.57 150.11,261.26 149.54,259.63 148.96,259.93 148.38,261 147.8,259.47 147.22,260.83 146.65,259.47 146.07,260.62 145.49,260.13 144.91,261.27 144.33,260.23 143.76,260.07 143.18,261.21 142.6,261.57 142.02,260.14 141.44,261.18 140.87,261.49 140.29,261.05 139.71,260.2 139.13,260.13 138.55,261.34 137.98,261.19 137.4,261.11 136.82,259.77 136.24,259.29 135.66,259.84 135.09,259.61 134.51,260.72 133.93,260.85 133.35,260.87 132.77,260.12 132.2,260.6 131.62,260.06 131.04,260.33 130.46,261.49 129.88,260.94 129.31,260.98 128.73,260.93 128.15,259.96 127.57,261.33 126.99,260.35 126.42,259.77 125.84,260.33 125.26,260.91 124.68,259.95 124.1,259.69 123.53,260.31 122.95,259.25 122.37,259.43 121.79,259.32 121.21,260.03 120.64,259.91 120.06,259.76 119.48,259.95 118.9,260.57 118.32,261.52 117.75,261.61 117.17,261.22 116.59,260.9 116.01,261.63 115.43,260.5 114.86,259.73 114.28,260.67 113.7,259.91 113.12,259.7 112.54,261.01 111.97,259.88 111.39,259.7 110.81,260.68 110.23,260.24 109.65,259.47 109.08,260.13 108.5,259.77 107.92,259.76 107.34,260.07 106.76,259.91 106.19,260.64 105.61,261.47 105.03,261.16 104.45,260.08 103.87,260.77 103.3,261.34 102.72,260.76 102.14,260.85" fill="#fa0c0c" stroke="none" stroke-width="1"/>
<polyline points="206.18,325.24 207.27,325.26 208.36,325.24 209.45,325.06 210.54,325.18 211.62,324.9 212.71,325 213.8,324.88 214.89,325.01 215.98,324.8 217.07,324.76 218.16,324.87 219.25,324.81 220.34,324.95 221.43,324.89 222.51,324.98 223.6,324.9 224.69,324.9 225.78,324.95 226.87,324.67 227.96,324.61 229.05,324.91 230.14,324.46 231.23,324.72 232.32,324.65 233.4,324.32 234.49,324.69 235.58,324.69 236.67,324.52 237.76,324.55 238.85,324.56 239.94,324.19 241.03,324.35 242.12,324.31 243.21,324.45 244.3,324.4 245.38,324.38 246.47,324.23 247.56,324.36 248.65,324.22 249.74,324.2 250.83,323.93 251.92,323.81 253.01,323.83 254.1,323.91 255.19,323.75 256.27,324.09 257.36,323.92 258.45,323.92 259.54,323.89 260.63,323.89 261.72,323.76 262.81,323.49 263.9,323.86 264.99,323.8 266.07,323.65 267.16,323.64 268.25,323.67 269.34,323.34 270.43,323.65 271.52,323.38 272.61,323.26 273.7,323.32 274.79,323.52 275.88,323.23 276.96,323.47 278.05,323.56 279.14,323.29 280.23,323.2 281.32,323.22 282.41,323.29 283.5,323.3 284.59,323.2 285.68,323.18 286.77,322.87 287.86,322.87 288.94,322.9 290.03,323.11 291.12,322.86 292.21,322.96 293.3,322.66" fill="none" stroke="#f01010" stroke-width="2.4" stroke-linejoin="round" stroke-linecap="round" stroke-linecap="butt"/>
<line x1="102.4" y1="252.5" x2="102.4" y2="339.1" stroke="#f01010" stroke-width="1.5"/>
<line x1="206.6" y1="242.2" x2="206.6" y2="331.5" stroke="#f01010" stroke-width="1.5"/>
<line x1="79" y1="300.4" x2="102" y2="300.4" stroke="#f01010" stroke-width="1"/>
<polygon points="63.8,300.4 80,297.8 76.5,300.4 80,303" fill="#f01010" stroke="none" stroke-width="1"/>
<line x1="253" y1="331.3" x2="282" y2="331.3" stroke="#111" stroke-width="1.1"/>
<polygon points="292,331.3 279.5,328.4 282.5,331.3 279.5,334.2" fill="#111" stroke="none" stroke-width="1"/>
<line x1="53.3" y1="339.1" x2="53.3" y2="335.7" stroke="#000" stroke-width="1"/>
<line x1="53.3" y1="242.2" x2="53.3" y2="245.6" stroke="#000" stroke-width="1"/>
<line x1="101.3" y1="339.1" x2="101.3" y2="335.7" stroke="#000" stroke-width="1"/>
<line x1="101.3" y1="242.2" x2="101.3" y2="245.6" stroke="#000" stroke-width="1"/>
<line x1="149.3" y1="339.1" x2="149.3" y2="335.7" stroke="#000" stroke-width="1"/>
<line x1="149.3" y1="242.2" x2="149.3" y2="245.6" stroke="#000" stroke-width="1"/>
<line x1="197.3" y1="339.1" x2="197.3" y2="335.7" stroke="#000" stroke-width="1"/>
<line x1="197.3" y1="242.2" x2="197.3" y2="245.6" stroke="#000" stroke-width="1"/>
<line x1="245.3" y1="339.1" x2="245.3" y2="335.7" stroke="#000" stroke-width="1"/>
<line x1="245.3" y1="242.2" x2="245.3" y2="245.6" stroke="#000" stroke-width="1"/>
<line x1="293.3" y1="339.1" x2="293.3" y2="335.7" stroke="#000" stroke-width="1"/>
<line x1="293.3" y1="242.2" x2="293.3" y2="245.6" stroke="#000" stroke-width="1"/>
<line x1="57.96" y1="339.1" x2="57.96" y2="337.1" stroke="#000" stroke-width="1.1"/>
<line x1="57.96" y1="242.2" x2="57.96" y2="244.2" stroke="#000" stroke-width="1.1"/>
<line x1="65.68" y1="339.1" x2="65.68" y2="337.1" stroke="#000" stroke-width="1.1"/>
<line x1="65.68" y1="242.2" x2="65.68" y2="244.2" stroke="#000" stroke-width="1.1"/>
<line x1="73.4" y1="339.1" x2="73.4" y2="337.1" stroke="#000" stroke-width="1.1"/>
<line x1="73.4" y1="242.2" x2="73.4" y2="244.2" stroke="#000" stroke-width="1.1"/>
<line x1="81.12" y1="339.1" x2="81.12" y2="337.1" stroke="#000" stroke-width="1.1"/>
<line x1="81.12" y1="242.2" x2="81.12" y2="244.2" stroke="#000" stroke-width="1.1"/>
<line x1="88.84" y1="339.1" x2="88.84" y2="337.1" stroke="#000" stroke-width="1.1"/>
<line x1="88.84" y1="242.2" x2="88.84" y2="244.2" stroke="#000" stroke-width="1.1"/>
<line x1="96.56" y1="339.1" x2="96.56" y2="337.1" stroke="#000" stroke-width="1.1"/>
<line x1="96.56" y1="242.2" x2="96.56" y2="244.2" stroke="#000" stroke-width="1.1"/>
<line x1="104.28" y1="339.1" x2="104.28" y2="337.1" stroke="#000" stroke-width="1.1"/>
<line x1="104.28" y1="242.2" x2="104.28" y2="244.2" stroke="#000" stroke-width="1.1"/>
<line x1="112" y1="339.1" x2="112" y2="337.1" stroke="#000" stroke-width="1.1"/>
<line x1="112" y1="242.2" x2="112" y2="244.2" stroke="#000" stroke-width="1.1"/>
<line x1="119.72" y1="339.1" x2="119.72" y2="337.1" stroke="#000" stroke-width="1.1"/>
<line x1="119.72" y1="242.2" x2="119.72" y2="244.2" stroke="#000" stroke-width="1.1"/>
<line x1="127.44" y1="339.1" x2="127.44" y2="337.1" stroke="#000" stroke-width="1.1"/>
<line x1="127.44" y1="242.2" x2="127.44" y2="244.2" stroke="#000" stroke-width="1.1"/>
<line x1="135.16" y1="339.1" x2="135.16" y2="337.1" stroke="#000" stroke-width="1.1"/>
<line x1="135.16" y1="242.2" x2="135.16" y2="244.2" stroke="#000" stroke-width="1.1"/>
<line x1="142.88" y1="339.1" x2="142.88" y2="337.1" stroke="#000" stroke-width="1.1"/>
<line x1="142.88" y1="242.2" x2="142.88" y2="244.2" stroke="#000" stroke-width="1.1"/>
<line x1="150.6" y1="339.1" x2="150.6" y2="337.1" stroke="#000" stroke-width="1.1"/>
<line x1="150.6" y1="242.2" x2="150.6" y2="244.2" stroke="#000" stroke-width="1.1"/>
<line x1="158.32" y1="339.1" x2="158.32" y2="337.1" stroke="#000" stroke-width="1.1"/>
<line x1="158.32" y1="242.2" x2="158.32" y2="244.2" stroke="#000" stroke-width="1.1"/>
<line x1="166.04" y1="339.1" x2="166.04" y2="337.1" stroke="#000" stroke-width="1.1"/>
<line x1="166.04" y1="242.2" x2="166.04" y2="244.2" stroke="#000" stroke-width="1.1"/>
<line x1="173.76" y1="339.1" x2="173.76" y2="337.1" stroke="#000" stroke-width="1.1"/>
<line x1="173.76" y1="242.2" x2="173.76" y2="244.2" stroke="#000" stroke-width="1.1"/>
<line x1="181.48" y1="339.1" x2="181.48" y2="337.1" stroke="#000" stroke-width="1.1"/>
<line x1="181.48" y1="242.2" x2="181.48" y2="244.2" stroke="#000" stroke-width="1.1"/>
<line x1="189.2" y1="339.1" x2="189.2" y2="337.1" stroke="#000" stroke-width="1.1"/>
<line x1="189.2" y1="242.2" x2="189.2" y2="244.2" stroke="#000" stroke-width="1.1"/>
<line x1="196.92" y1="339.1" x2="196.92" y2="337.1" stroke="#000" stroke-width="1.1"/>
<line x1="196.92" y1="242.2" x2="196.92" y2="244.2" stroke="#000" stroke-width="1.1"/>
<line x1="204.64" y1="339.1" x2="204.64" y2="337.1" stroke="#000" stroke-width="1.1"/>
<line x1="204.64" y1="242.2" x2="204.64" y2="244.2" stroke="#000" stroke-width="1.1"/>
<line x1="212.36" y1="339.1" x2="212.36" y2="337.1" stroke="#000" stroke-width="1.1"/>
<line x1="212.36" y1="242.2" x2="212.36" y2="244.2" stroke="#000" stroke-width="1.1"/>
<line x1="220.08" y1="339.1" x2="220.08" y2="337.1" stroke="#000" stroke-width="1.1"/>
<line x1="220.08" y1="242.2" x2="220.08" y2="244.2" stroke="#000" stroke-width="1.1"/>
<line x1="227.8" y1="339.1" x2="227.8" y2="337.1" stroke="#000" stroke-width="1.1"/>
<line x1="227.8" y1="242.2" x2="227.8" y2="244.2" stroke="#000" stroke-width="1.1"/>
<line x1="235.52" y1="339.1" x2="235.52" y2="337.1" stroke="#000" stroke-width="1.1"/>
<line x1="235.52" y1="242.2" x2="235.52" y2="244.2" stroke="#000" stroke-width="1.1"/>
<line x1="243.24" y1="339.1" x2="243.24" y2="337.1" stroke="#000" stroke-width="1.1"/>
<line x1="243.24" y1="242.2" x2="243.24" y2="244.2" stroke="#000" stroke-width="1.1"/>
<line x1="250.96" y1="339.1" x2="250.96" y2="337.1" stroke="#000" stroke-width="1.1"/>
<line x1="250.96" y1="242.2" x2="250.96" y2="244.2" stroke="#000" stroke-width="1.1"/>
<line x1="258.68" y1="339.1" x2="258.68" y2="337.1" stroke="#000" stroke-width="1.1"/>
<line x1="258.68" y1="242.2" x2="258.68" y2="244.2" stroke="#000" stroke-width="1.1"/>
<line x1="266.4" y1="339.1" x2="266.4" y2="337.1" stroke="#000" stroke-width="1.1"/>
<line x1="266.4" y1="242.2" x2="266.4" y2="244.2" stroke="#000" stroke-width="1.1"/>
<line x1="274.12" y1="339.1" x2="274.12" y2="337.1" stroke="#000" stroke-width="1.1"/>
<line x1="274.12" y1="242.2" x2="274.12" y2="244.2" stroke="#000" stroke-width="1.1"/>
<line x1="281.84" y1="339.1" x2="281.84" y2="337.1" stroke="#000" stroke-width="1.1"/>
<line x1="281.84" y1="242.2" x2="281.84" y2="244.2" stroke="#000" stroke-width="1.1"/>
<line x1="289.56" y1="339.1" x2="289.56" y2="337.1" stroke="#000" stroke-width="1.1"/>
<line x1="289.56" y1="242.2" x2="289.56" y2="244.2" stroke="#000" stroke-width="1.1"/>
<line x1="51.2" y1="339" x2="54.7" y2="339" stroke="#000" stroke-width="0.9"/>
<text x="49" y="341.59" font-size="7.2" font-weight="bold" text-anchor="end" fill="#000" textLength="18" lengthAdjust="spacingAndGlyphs" stroke="#000" stroke-width="0.42">0.0</text>
<line x1="51.2" y1="319.8" x2="54.7" y2="319.8" stroke="#000" stroke-width="0.9"/>
<text x="49" y="322.39" font-size="7.2" font-weight="bold" text-anchor="end" fill="#000" textLength="18" lengthAdjust="spacingAndGlyphs" stroke="#000" stroke-width="0.42">0.2</text>
<line x1="51.2" y1="300.6" x2="54.7" y2="300.6" stroke="#000" stroke-width="0.9"/>
<text x="49" y="303.19" font-size="7.2" font-weight="bold" text-anchor="end" fill="#000" textLength="18" lengthAdjust="spacingAndGlyphs" stroke="#000" stroke-width="0.42">0.4</text>
<line x1="51.2" y1="281.4" x2="54.7" y2="281.4" stroke="#000" stroke-width="0.9"/>
<text x="49" y="283.99" font-size="7.2" font-weight="bold" text-anchor="end" fill="#000" textLength="18" lengthAdjust="spacingAndGlyphs" stroke="#000" stroke-width="0.42">0.6</text>
<line x1="51.2" y1="262.2" x2="54.7" y2="262.2" stroke="#000" stroke-width="0.9"/>
<text x="49" y="264.79" font-size="7.2" font-weight="bold" text-anchor="end" fill="#000" textLength="18" lengthAdjust="spacingAndGlyphs" stroke="#000" stroke-width="0.42">0.8</text>
<line x1="51.2" y1="243" x2="54.7" y2="243" stroke="#000" stroke-width="0.9"/>
<text x="49" y="245.59" font-size="7.2" font-weight="bold" text-anchor="end" fill="#000" textLength="18" lengthAdjust="spacingAndGlyphs" stroke="#000" stroke-width="0.42">1.0</text>
<line x1="296.4" y1="246" x2="292.9" y2="246" stroke="#000" stroke-width="0.9"/>
<text x="324.9" y="248.52" font-size="7" font-weight="bold" text-anchor="end" fill="#000" textLength="18.3" lengthAdjust="spacingAndGlyphs" stroke="#000" stroke-width="0.42">1.5</text>
<line x1="296.4" y1="261.28" x2="292.9" y2="261.28" stroke="#000" stroke-width="0.9"/>
<text x="324.9" y="263.8" font-size="7" font-weight="bold" text-anchor="end" fill="#000" textLength="18.3" lengthAdjust="spacingAndGlyphs" stroke="#000" stroke-width="0.42">1.0</text>
<line x1="296.4" y1="276.56" x2="292.9" y2="276.56" stroke="#000" stroke-width="0.9"/>
<text x="324.9" y="279.08" font-size="7" font-weight="bold" text-anchor="end" fill="#000" textLength="18.3" lengthAdjust="spacingAndGlyphs" stroke="#000" stroke-width="0.42">0.5</text>
<line x1="296.4" y1="291.85" x2="292.9" y2="291.85" stroke="#000" stroke-width="0.9"/>
<text x="324.9" y="294.37" font-size="7" font-weight="bold" text-anchor="end" fill="#000" textLength="18.3" lengthAdjust="spacingAndGlyphs" stroke="#000" stroke-width="0.42">0.0</text>
<line x1="296.4" y1="307.14" x2="292.9" y2="307.14" stroke="#000" stroke-width="0.9"/>
<text x="324.9" y="309.66" font-size="7" font-weight="bold" text-anchor="end" fill="#000" textLength="22.4" lengthAdjust="spacingAndGlyphs" stroke="#000" stroke-width="0.42">-0.5</text>
<line x1="296.4" y1="322.42" x2="292.9" y2="322.42" stroke="#000" stroke-width="0.9"/>
<text x="324.9" y="324.94" font-size="7" font-weight="bold" text-anchor="end" fill="#000" textLength="22.4" lengthAdjust="spacingAndGlyphs" stroke="#000" stroke-width="0.42">-1.0</text>
<line x1="296.4" y1="337.71" x2="292.9" y2="337.71" stroke="#000" stroke-width="0.9"/>
<text x="324.9" y="340.23" font-size="7" font-weight="bold" text-anchor="end" fill="#000" textLength="22.4" lengthAdjust="spacingAndGlyphs" stroke="#000" stroke-width="0.42">-1.5</text>
<rect x="51.2" y="242.2" width="245.2" height="96.9" fill="none" stroke="#000" stroke-width="1.6"/>
<text x="53.3" y="348.65" font-size="6.8" font-weight="bold" text-anchor="middle" fill="#000" textLength="17.4" lengthAdjust="spacingAndGlyphs" stroke="#000" stroke-width="0.42">0.0</text>
<text x="101.3" y="348.65" font-size="6.8" font-weight="bold" text-anchor="middle" fill="#000" textLength="17.4" lengthAdjust="spacingAndGlyphs" stroke="#000" stroke-width="0.42">0.2</text>
<text x="149.3" y="348.65" font-size="6.8" font-weight="bold" text-anchor="middle" fill="#000" textLength="17.4" lengthAdjust="spacingAndGlyphs" stroke="#000" stroke-width="0.42">0.4</text>
<text x="197.3" y="348.65" font-size="6.8" font-weight="bold" text-anchor="middle" fill="#000" textLength="17.4" lengthAdjust="spacingAndGlyphs" stroke="#000" stroke-width="0.42">0.6</text>
<text x="245.3" y="348.65" font-size="6.8" font-weight="bold" text-anchor="middle" fill="#000" textLength="17.4" lengthAdjust="spacingAndGlyphs" stroke="#000" stroke-width="0.42">0.8</text>
<text x="293.3" y="348.65" font-size="6.8" font-weight="bold" text-anchor="middle" fill="#000" textLength="17.4" lengthAdjust="spacingAndGlyphs" stroke="#000" stroke-width="0.42">1.0</text>
<text x="175.9" y="357.71" font-size="7.8" font-weight="bold" text-anchor="middle" fill="#000" textLength="51.2" lengthAdjust="spacingAndGlyphs" stroke="#000" stroke-width="0.42">Time (s)</text>
<text x="16.1" y="236.96" font-size="11" font-weight="bold" text-anchor="start" fill="#000" textLength="14" lengthAdjust="spacingAndGlyphs" stroke="#000" stroke-width="0.42">(b)</text>
<g transform="translate(333.5,292) rotate(90)"><text x="0" y="3.96" font-size="11" font-weight="bold" text-anchor="middle" fill="#000" textLength="74" lengthAdjust="spacingAndGlyphs" stroke="#000" stroke-width="0.42">Electric Field (kV/cm)</text></g>
<g transform="translate(8.2,307.5) rotate(-90)"><text x="0" y="4.1" font-size="11.4" font-weight="bold" text-anchor="middle" fill="#000" textLength="45.6" lengthAdjust="spacingAndGlyphs" stroke="#000" stroke-width="0.42">Normalized</text></g>
<g transform="translate(23.5,309.9) rotate(-90)"><text x="0" y="4.03" font-size="11.2" font-weight="bold" text-anchor="middle" fill="#000" textLength="53.9" lengthAdjust="spacingAndGlyphs" stroke="#000" stroke-width="0.42">Transmission</text></g>
<g transform="translate(17,269.2) rotate(-90)"><text x="0" y="3.96" font-size="11" font-weight="bold" text-anchor="middle" fill="#000" textLength="18.6" lengthAdjust="spacingAndGlyphs" stroke="#000" stroke-width="0.42">(a.u.)</text></g>
<rect x="44.4" y="373.9" width="31.8" height="65.2" fill="#8fd1ef" stroke="none" stroke-width="1"/>
<rect x="76.2" y="373.9" width="35" height="65.2" fill="#ffffff" stroke="none" stroke-width="1"/>
<rect x="111.2" y="373.9" width="8.9" height="65.2" fill="#c8e2a4" stroke="none" stroke-width="1"/>
<rect x="120.1" y="373.9" width="46.5" height="65.2" fill="#e3cbb2" stroke="none" stroke-width="1"/>
<polyline points="46.11,424.25 47.22,424.48 48.6,424.31 50.19,424.44 51.9,424.31 53.67,424.41 55.19,424.84 56.36,424.69 57.87,425.03 59.11,424.78 60.3,425.23 61.44,425.18 62.44,425.29 63.46,425.22 64.15,425.53 64.79,425.75 65.22,426.01 65.81,425.82 66.26,426.38 66.9,426.74 67.34,427.32 67.86,428.19 68.27,428.81 68.91,429.16 69.41,430.08 69.9,430.49 70.29,431.18 70.91,431.92 71.28,432.46 71.75,432.84 72.21,433.73 72.72,434.19 73.15,434.2 73.65,434.45 74.09,435.09 74.72,435.25 75.28,435.53 75.97,435.54 76.52,435.46 77.18,435.8 77.98,436.02 78.91,435.83 80.38,435.98 82.04,436.19 84.09,436.48 86.55,436.33 88.92,436.42 91.33,436.52 93.57,436.45 95.92,436.85 98.46,436.52 101.02,436.91 103.27,436.47 105.28,436.43 106.95,436.42 108.07,436.5 108.87,436.81 109.37,436.57 109.6,436.62 109.86,436.48 110.16,436.38 110.76,436.2 111.05,436.33 111.47,435.98 111.67,435.82 112,435.72 112.41,435.69 112.67,435.05 112.74,435.2 113.13,434.85 113.29,434.31 113.5,434.35 113.87,433.74 114.23,432.69 114.42,431.79 114.88,431.08 115.36,430.01 115.67,428.82 115.99,427.39 116.23,426.03 116.6,424.46 116.99,422.4 117.19,420.54 117.57,418.89 117.73,416.72 118.04,415.09 118.22,412.98 118.46,410.9 118.58,409.14 118.89,407.24 119.07,405.18 119.14,403.05 119.48,401.19 119.55,398.76 119.79,397.07 119.97,394.99 120.21,393.67 120.3,391.78 120.48,390.69 120.71,389.43 120.9,388.69 121.02,387.55 121.31,386.85 121.49,386.22 121.59,386.08 121.83,385.89 122.12,385.32 122.34,385.26 122.73,385.34 122.92,384.87 123.19,385 123.46,384.41 123.81,384.47 124.47,384.62 125.12,384.58 125.98,384.16 126.74,384.39 127.9,383.88 129.1,384 130.47,383.92 132.12,383.69 134.13,383.8 136.54,383.63 139.02,383.61 141.53,383.85 144.34,383.59 146.92,383.54 149.98,383.67 153.32,383.3 156.91,383.03 160.06,383.32 162.88,382.86 164.71,382.81" fill="none" stroke="#f01414" stroke-width="1.3" stroke-linejoin="round" stroke-linecap="round"/>
<line x1="46.2" y1="439.1" x2="46.2" y2="436.3" stroke="#000" stroke-width="0.9"/>
<line x1="46.2" y1="373.9" x2="46.2" y2="376.7" stroke="#000" stroke-width="0.9"/>
<line x1="49.17" y1="439.1" x2="49.17" y2="437.5" stroke="#000" stroke-width="0.9"/>
<line x1="49.17" y1="373.9" x2="49.17" y2="375.5" stroke="#000" stroke-width="0.9"/>
<line x1="52.13" y1="439.1" x2="52.13" y2="437.5" stroke="#000" stroke-width="0.9"/>
<line x1="52.13" y1="373.9" x2="52.13" y2="375.5" stroke="#000" stroke-width="0.9"/>
<line x1="55.09" y1="439.1" x2="55.09" y2="437.5" stroke="#000" stroke-width="0.9"/>
<line x1="55.09" y1="373.9" x2="55.09" y2="375.5" stroke="#000" stroke-width="0.9"/>
<line x1="58.06" y1="439.1" x2="58.06" y2="437.5" stroke="#000" stroke-width="0.9"/>
<line x1="58.06" y1="373.9" x2="58.06" y2="375.5" stroke="#000" stroke-width="0.9"/>
<line x1="61.03" y1="439.1" x2="61.03" y2="437.5" stroke="#000" stroke-width="0.9"/>
<line x1="61.03" y1="373.9" x2="61.03" y2="375.5" stroke="#000" stroke-width="0.9"/>
<line x1="63.99" y1="439.1" x2="63.99" y2="437.5" stroke="#000" stroke-width="0.9"/>
<line x1="63.99" y1="373.9" x2="63.99" y2="375.5" stroke="#000" stroke-width="0.9"/>
<line x1="66.95" y1="439.1" x2="66.95" y2="437.5" stroke="#000" stroke-width="0.9"/>
<line x1="66.95" y1="373.9" x2="66.95" y2="375.5" stroke="#000" stroke-width="0.9"/>
<line x1="69.92" y1="439.1" x2="69.92" y2="437.5" stroke="#000" stroke-width="0.9"/>
<line x1="69.92" y1="373.9" x2="69.92" y2="375.5" stroke="#000" stroke-width="0.9"/>
<line x1="72.89" y1="439.1" x2="72.89" y2="437.5" stroke="#000" stroke-width="0.9"/>
<line x1="72.89" y1="373.9" x2="72.89" y2="375.5" stroke="#000" stroke-width="0.9"/>
<line x1="75.85" y1="439.1" x2="75.85" y2="436.3" stroke="#000" stroke-width="0.9"/>
<line x1="75.85" y1="373.9" x2="75.85" y2="376.7" stroke="#000" stroke-width="0.9"/>
<line x1="78.81" y1="439.1" x2="78.81" y2="437.5" stroke="#000" stroke-width="0.9"/>
<line x1="78.81" y1="373.9" x2="78.81" y2="375.5" stroke="#000" stroke-width="0.9"/>
<line x1="81.78" y1="439.1" x2="81.78" y2="437.5" stroke="#000" stroke-width="0.9"/>
<line x1="81.78" y1="373.9" x2="81.78" y2="375.5" stroke="#000" stroke-width="0.9"/>
<line x1="84.75" y1="439.1" x2="84.75" y2="437.5" stroke="#000" stroke-width="0.9"/>
<line x1="84.75" y1="373.9" x2="84.75" y2="375.5" stroke="#000" stroke-width="0.9"/>
<line x1="87.71" y1="439.1" x2="87.71" y2="437.5" stroke="#000" stroke-width="0.9"/>
<line x1="87.71" y1="373.9" x2="87.71" y2="375.5" stroke="#000" stroke-width="0.9"/>
<line x1="90.67" y1="439.1" x2="90.67" y2="437.5" stroke="#000" stroke-width="0.9"/>
<line x1="90.67" y1="373.9" x2="90.67" y2="375.5" stroke="#000" stroke-width="0.9"/>
<line x1="93.64" y1="439.1" x2="93.64" y2="437.5" stroke="#000" stroke-width="0.9"/>
<line x1="93.64" y1="373.9" x2="93.64" y2="375.5" stroke="#000" stroke-width="0.9"/>
<line x1="96.61" y1="439.1" x2="96.61" y2="437.5" stroke="#000" stroke-width="0.9"/>
<line x1="96.61" y1="373.9" x2="96.61" y2="375.5" stroke="#000" stroke-width="0.9"/>
<line x1="99.57" y1="439.1" x2="99.57" y2="437.5" stroke="#000" stroke-width="0.9"/>
<line x1="99.57" y1="373.9" x2="99.57" y2="375.5" stroke="#000" stroke-width="0.9"/>
<line x1="102.53" y1="439.1" x2="102.53" y2="437.5" stroke="#000" stroke-width="0.9"/>
<line x1="102.53" y1="373.9" x2="102.53" y2="375.5" stroke="#000" stroke-width="0.9"/>
<line x1="105.5" y1="439.1" x2="105.5" y2="436.3" stroke="#000" stroke-width="0.9"/>
<line x1="105.5" y1="373.9" x2="105.5" y2="376.7" stroke="#000" stroke-width="0.9"/>
<line x1="108.47" y1="439.1" x2="108.47" y2="437.5" stroke="#000" stroke-width="0.9"/>
<line x1="108.47" y1="373.9" x2="108.47" y2="375.5" stroke="#000" stroke-width="0.9"/>
<line x1="111.43" y1="439.1" x2="111.43" y2="437.5" stroke="#000" stroke-width="0.9"/>
<line x1="111.43" y1="373.9" x2="111.43" y2="375.5" stroke="#000" stroke-width="0.9"/>
<line x1="114.39" y1="439.1" x2="114.39" y2="437.5" stroke="#000" stroke-width="0.9"/>
<line x1="114.39" y1="373.9" x2="114.39" y2="375.5" stroke="#000" stroke-width="0.9"/>
<line x1="117.36" y1="439.1" x2="117.36" y2="437.5" stroke="#000" stroke-width="0.9"/>
<line x1="117.36" y1="373.9" x2="117.36" y2="375.5" stroke="#000" stroke-width="0.9"/>
<line x1="120.33" y1="439.1" x2="120.33" y2="437.5" stroke="#000" stroke-width="0.9"/>
<line x1="120.33" y1="373.9" x2="120.33" y2="375.5" stroke="#000" stroke-width="0.9"/>
<line x1="123.29" y1="439.1" x2="123.29" y2="437.5" stroke="#000" stroke-width="0.9"/>
<line x1="123.29" y1="373.9" x2="123.29" y2="375.5" stroke="#000" stroke-width="0.9"/>
<line x1="126.25" y1="439.1" x2="126.25" y2="437.5" stroke="#000" stroke-width="0.9"/>
<line x1="126.25" y1="373.9" x2="126.25" y2="375.5" stroke="#000" stroke-width="0.9"/>
<line x1="129.22" y1="439.1" x2="129.22" y2="437.5" stroke="#000" stroke-width="0.9"/>
<line x1="129.22" y1="373.9" x2="129.22" y2="375.5" stroke="#000" stroke-width="0.9"/>
<line x1="132.19" y1="439.1" x2="132.19" y2="437.5" stroke="#000" stroke-width="0.9"/>
<line x1="132.19" y1="373.9" x2="132.19" y2="375.5" stroke="#000" stroke-width="0.9"/>
<line x1="135.15" y1="439.1" x2="135.15" y2="436.3" stroke="#000" stroke-width="0.9"/>
<line x1="135.15" y1="373.9" x2="135.15" y2="376.7" stroke="#000" stroke-width="0.9"/>
<line x1="138.12" y1="439.1" x2="138.12" y2="437.5" stroke="#000" stroke-width="0.9"/>
<line x1="138.12" y1="373.9" x2="138.12" y2="375.5" stroke="#000" stroke-width="0.9"/>
<line x1="141.08" y1="439.1" x2="141.08" y2="437.5" stroke="#000" stroke-width="0.9"/>
<line x1="141.08" y1="373.9" x2="141.08" y2="375.5" stroke="#000" stroke-width="0.9"/>
<line x1="144.05" y1="439.1" x2="144.05" y2="437.5" stroke="#000" stroke-width="0.9"/>
<line x1="144.05" y1="373.9" x2="144.05" y2="375.5" stroke="#000" stroke-width="0.9"/>
<line x1="147.01" y1="439.1" x2="147.01" y2="437.5" stroke="#000" stroke-width="0.9"/>
<line x1="147.01" y1="373.9" x2="147.01" y2="375.5" stroke="#000" stroke-width="0.9"/>
<line x1="149.97" y1="439.1" x2="149.97" y2="437.5" stroke="#000" stroke-width="0.9"/>
<line x1="149.97" y1="373.9" x2="149.97" y2="375.5" stroke="#000" stroke-width="0.9"/>
<line x1="152.94" y1="439.1" x2="152.94" y2="437.5" stroke="#000" stroke-width="0.9"/>
<line x1="152.94" y1="373.9" x2="152.94" y2="375.5" stroke="#000" stroke-width="0.9"/>
<line x1="155.91" y1="439.1" x2="155.91" y2="437.5" stroke="#000" stroke-width="0.9"/>
<line x1="155.91" y1="373.9" x2="155.91" y2="375.5" stroke="#000" stroke-width="0.9"/>
<line x1="158.87" y1="439.1" x2="158.87" y2="437.5" stroke="#000" stroke-width="0.9"/>
<line x1="158.87" y1="373.9" x2="158.87" y2="375.5" stroke="#000" stroke-width="0.9"/>
<line x1="161.83" y1="439.1" x2="161.83" y2="437.5" stroke="#000" stroke-width="0.9"/>
<line x1="161.83" y1="373.9" x2="161.83" y2="375.5" stroke="#000" stroke-width="0.9"/>
<line x1="164.8" y1="439.1" x2="164.8" y2="436.3" stroke="#000" stroke-width="0.9"/>
<line x1="164.8" y1="373.9" x2="164.8" y2="376.7" stroke="#000" stroke-width="0.9"/>
<line x1="44.4" y1="439.1" x2="47" y2="439.1" stroke="#000" stroke-width="0.8"/>
<line x1="166.6" y1="439.1" x2="164" y2="439.1" stroke="#000" stroke-width="0.8"/>
<text x="41.9" y="441.4" font-size="6.4" font-weight="bold" text-anchor="end" fill="#000" textLength="14.7" lengthAdjust="spacingAndGlyphs" stroke="#000" stroke-width="0.42">0.0</text>
<line x1="44.4" y1="426.06" x2="47" y2="426.06" stroke="#000" stroke-width="0.8"/>
<line x1="166.6" y1="426.06" x2="164" y2="426.06" stroke="#000" stroke-width="0.8"/>
<text x="41.9" y="428.36" font-size="6.4" font-weight="bold" text-anchor="end" fill="#000" textLength="14.7" lengthAdjust="spacingAndGlyphs" stroke="#000" stroke-width="0.42">0.2</text>
<line x1="44.4" y1="413.02" x2="47" y2="413.02" stroke="#000" stroke-width="0.8"/>
<line x1="166.6" y1="413.02" x2="164" y2="413.02" stroke="#000" stroke-width="0.8"/>
<text x="41.9" y="415.32" font-size="6.4" font-weight="bold" text-anchor="end" fill="#000" textLength="14.7" lengthAdjust="spacingAndGlyphs" stroke="#000" stroke-width="0.42">0.4</text>
<line x1="44.4" y1="399.98" x2="47" y2="399.98" stroke="#000" stroke-width="0.8"/>
<line x1="166.6" y1="399.98" x2="164" y2="399.98" stroke="#000" stroke-width="0.8"/>
<text x="41.9" y="402.28" font-size="6.4" font-weight="bold" text-anchor="end" fill="#000" textLength="14.7" lengthAdjust="spacingAndGlyphs" stroke="#000" stroke-width="0.42">0.6</text>
<line x1="44.4" y1="386.94" x2="47" y2="386.94" stroke="#000" stroke-width="0.8"/>
<line x1="166.6" y1="386.94" x2="164" y2="386.94" stroke="#000" stroke-width="0.8"/>
<text x="41.9" y="389.24" font-size="6.4" font-weight="bold" text-anchor="end" fill="#000" textLength="14.7" lengthAdjust="spacingAndGlyphs" stroke="#000" stroke-width="0.42">0.8</text>
<line x1="44.4" y1="373.9" x2="47" y2="373.9" stroke="#000" stroke-width="0.8"/>
<line x1="166.6" y1="373.9" x2="164" y2="373.9" stroke="#000" stroke-width="0.8"/>
<text x="41.9" y="376.2" font-size="6.4" font-weight="bold" text-anchor="end" fill="#000" textLength="14.7" lengthAdjust="spacingAndGlyphs" stroke="#000" stroke-width="0.42">1.0</text>
<rect x="44.4" y="373.9" width="122.2" height="65.2" fill="none" stroke="#000" stroke-width="1.2"/>
<text x="46.2" y="447.4" font-size="6.4" font-weight="bold" text-anchor="middle" fill="#000" textLength="4.8" lengthAdjust="spacingAndGlyphs" stroke="#000" stroke-width="0.42">0</text>
<text x="75.85" y="447.4" font-size="6.4" font-weight="bold" text-anchor="middle" fill="#000" textLength="16.6" lengthAdjust="spacingAndGlyphs" stroke="#000" stroke-width="0.42">100</text>
<text x="105.5" y="447.4" font-size="6.4" font-weight="bold" text-anchor="middle" fill="#000" textLength="16.6" lengthAdjust="spacingAndGlyphs" stroke="#000" stroke-width="0.42">200</text>
<text x="135.15" y="447.4" font-size="6.4" font-weight="bold" text-anchor="middle" fill="#000" textLength="16.6" lengthAdjust="spacingAndGlyphs" stroke="#000" stroke-width="0.42">300</text>
<text x="164.8" y="447.4" font-size="6.4" font-weight="bold" text-anchor="middle" fill="#000" textLength="16.6" lengthAdjust="spacingAndGlyphs" stroke="#000" stroke-width="0.42">400</text>
<text x="14.9" y="367.68" font-size="10.5" font-weight="bold" text-anchor="start" fill="#000" textLength="12.6" lengthAdjust="spacingAndGlyphs" stroke="#000" stroke-width="0.42">(c)</text>
<g transform="translate(8.5,414.8) rotate(-90)"><text x="0" y="3.46" font-size="9.6" font-weight="bold" text-anchor="middle" fill="#000" textLength="32.3" lengthAdjust="spacingAndGlyphs" stroke="#000" stroke-width="0.42">Normalized</text></g>
<g transform="translate(20.6,416.8) rotate(-90)"><text x="0" y="3.46" font-size="9.6" font-weight="bold" text-anchor="middle" fill="#000" textLength="37.9" lengthAdjust="spacingAndGlyphs" stroke="#000" stroke-width="0.42">Transmission</text></g>
<g transform="translate(12.7,385.4) rotate(-90)"><text x="0" y="2.95" font-size="8.2" font-weight="bold" text-anchor="middle" fill="#000" textLength="13.7" lengthAdjust="spacingAndGlyphs" stroke="#000" stroke-width="0.42">(a.u.)</text></g>
<text x="105.3" y="455.04" font-size="7.6" font-weight="bold" text-anchor="middle" fill="#000" textLength="46.5" lengthAdjust="spacingAndGlyphs" stroke="#000" stroke-width="0.42">Time (μs)</text>
<rect x="211" y="373.9" width="24.6" height="65.2" fill="#e3cbb2" stroke="none" stroke-width="1"/>
<rect x="235.6" y="373.9" width="20.7" height="65.2" fill="#c8e2a4" stroke="none" stroke-width="1"/>
<rect x="256.3" y="373.9" width="36.2" height="65.2" fill="#ffffff" stroke="none" stroke-width="1"/>
<rect x="292.5" y="373.9" width="40.3" height="65.2" fill="#8fd1ef" stroke="none" stroke-width="1"/>
<polyline points="213.18,378.02 214.12,378.27 215.4,377.87 217.14,377.93 218.71,377.86 220.38,377.51 221.81,377.61 223.34,377.41 224.68,376.94 225.83,376.99 227.2,377.06 228.22,376.54 229.23,376.5 230.18,376.19 230.87,376.28 231.49,376.12 232,375.75 232.48,375.68 233.11,375.52 233.53,375.87 234.03,375.55 234.45,375.87 234.97,376.26 235.56,376.58 235.95,376.63 236.47,377.57 237.19,378.48 237.7,379.55 238.39,380.84 239,382.09 239.55,382.84 240.11,383.98 240.55,385.07 241.07,386.04 241.44,387.14 241.9,388.57 242.47,389.46 242.92,391.02 243.43,391.91 243.98,393.43 244.5,394.49 244.89,396.19 245.45,397.58 245.77,398.56 246.24,399.76 246.87,401.22 247.34,402.44 247.84,403.91 248.27,405.66 249.03,407.12 249.63,409.35 250.26,411.3 250.97,413.34 251.7,415.63 252.46,417.44 253,419.5 253.81,421.5 254.41,423.55 255.15,425.64 255.61,427.1 256.22,428.69 256.75,429.44 257.07,430.41 257.49,430.64 257.83,431.27 258.18,431.33 258.56,431.56 259.01,432.17 259.2,432.04 259.56,432.27 259.75,432.8 260.3,432.92 260.92,433.1 261.73,432.86 262.55,433.15 263.7,433.4 264.73,433.29 266.03,433.25 267.33,433.12 268.93,433.4 270.57,433.11 272.54,433.24 274.26,432.7 276.17,432.98 277.67,432.36 279.2,432.37 280.57,432.33 281.84,431.92 283.03,431.74 284.04,431.79 285.07,431.12 285.74,430.8 286.44,430.3 286.88,429.68 287.44,429.42 287.72,428.65 288.29,427.79 288.72,427.18 289.05,426.7 289.4,425.86 289.68,425.3 289.98,424.71 290.28,424.07 290.47,423.72 290.81,423.13 291.1,423.06 291.26,422.51 291.5,422.32 291.68,422.44 291.95,422.57 292.3,422.65 292.61,423.06 292.92,423.83 293.19,423.88 293.52,424.37 293.9,424.51 294.11,425.17 294.34,425.3 294.57,425.59 295.13,425.77 295.95,425.57 296.91,426.12 297.95,425.99 299.44,426.03 300.95,426.24 302.51,426.34 304.09,426.92 305.75,426.83 307.63,427.13 309.46,427.35 311.5,428.02 313.69,428.28 315.76,428.48 318.19,428.61 321.07,428.78 323.97,429.12 326.6,429.51 328.79,429.75 330.53,429.59" fill="none" stroke="#f01414" stroke-width="1.3" stroke-linejoin="round" stroke-linecap="round"/>
<line x1="213.1" y1="439.1" x2="213.1" y2="436.3" stroke="#000" stroke-width="0.9"/>
<line x1="213.1" y1="373.9" x2="213.1" y2="376.7" stroke="#000" stroke-width="0.9"/>
<line x1="216.03" y1="439.1" x2="216.03" y2="437.5" stroke="#000" stroke-width="0.9"/>
<line x1="216.03" y1="373.9" x2="216.03" y2="375.5" stroke="#000" stroke-width="0.9"/>
<line x1="218.97" y1="439.1" x2="218.97" y2="437.5" stroke="#000" stroke-width="0.9"/>
<line x1="218.97" y1="373.9" x2="218.97" y2="375.5" stroke="#000" stroke-width="0.9"/>
<line x1="221.91" y1="439.1" x2="221.91" y2="437.5" stroke="#000" stroke-width="0.9"/>
<line x1="221.91" y1="373.9" x2="221.91" y2="375.5" stroke="#000" stroke-width="0.9"/>
<line x1="224.84" y1="439.1" x2="224.84" y2="437.5" stroke="#000" stroke-width="0.9"/>
<line x1="224.84" y1="373.9" x2="224.84" y2="375.5" stroke="#000" stroke-width="0.9"/>
<line x1="227.78" y1="439.1" x2="227.78" y2="437.5" stroke="#000" stroke-width="0.9"/>
<line x1="227.78" y1="373.9" x2="227.78" y2="375.5" stroke="#000" stroke-width="0.9"/>
<line x1="230.71" y1="439.1" x2="230.71" y2="437.5" stroke="#000" stroke-width="0.9"/>
<line x1="230.71" y1="373.9" x2="230.71" y2="375.5" stroke="#000" stroke-width="0.9"/>
<line x1="233.64" y1="439.1" x2="233.64" y2="437.5" stroke="#000" stroke-width="0.9"/>
<line x1="233.64" y1="373.9" x2="233.64" y2="375.5" stroke="#000" stroke-width="0.9"/>
<line x1="236.58" y1="439.1" x2="236.58" y2="437.5" stroke="#000" stroke-width="0.9"/>
<line x1="236.58" y1="373.9" x2="236.58" y2="375.5" stroke="#000" stroke-width="0.9"/>
<line x1="239.51" y1="439.1" x2="239.51" y2="437.5" stroke="#000" stroke-width="0.9"/>
<line x1="239.51" y1="373.9" x2="239.51" y2="375.5" stroke="#000" stroke-width="0.9"/>
<line x1="242.45" y1="439.1" x2="242.45" y2="436.3" stroke="#000" stroke-width="0.9"/>
<line x1="242.45" y1="373.9" x2="242.45" y2="376.7" stroke="#000" stroke-width="0.9"/>
<line x1="245.38" y1="439.1" x2="245.38" y2="437.5" stroke="#000" stroke-width="0.9"/>
<line x1="245.38" y1="373.9" x2="245.38" y2="375.5" stroke="#000" stroke-width="0.9"/>
<line x1="248.32" y1="439.1" x2="248.32" y2="437.5" stroke="#000" stroke-width="0.9"/>
<line x1="248.32" y1="373.9" x2="248.32" y2="375.5" stroke="#000" stroke-width="0.9"/>
<line x1="251.25" y1="439.1" x2="251.25" y2="437.5" stroke="#000" stroke-width="0.9"/>
<line x1="251.25" y1="373.9" x2="251.25" y2="375.5" stroke="#000" stroke-width="0.9"/>
<line x1="254.19" y1="439.1" x2="254.19" y2="437.5" stroke="#000" stroke-width="0.9"/>
<line x1="254.19" y1="373.9" x2="254.19" y2="375.5" stroke="#000" stroke-width="0.9"/>
<line x1="257.12" y1="439.1" x2="257.12" y2="437.5" stroke="#000" stroke-width="0.9"/>
<line x1="257.12" y1="373.9" x2="257.12" y2="375.5" stroke="#000" stroke-width="0.9"/>
<line x1="260.06" y1="439.1" x2="260.06" y2="437.5" stroke="#000" stroke-width="0.9"/>
<line x1="260.06" y1="373.9" x2="260.06" y2="375.5" stroke="#000" stroke-width="0.9"/>
<line x1="263" y1="439.1" x2="263" y2="437.5" stroke="#000" stroke-width="0.9"/>
<line x1="263" y1="373.9" x2="263" y2="375.5" stroke="#000" stroke-width="0.9"/>
<line x1="265.93" y1="439.1" x2="265.93" y2="437.5" stroke="#000" stroke-width="0.9"/>
<line x1="265.93" y1="373.9" x2="265.93" y2="375.5" stroke="#000" stroke-width="0.9"/>
<line x1="268.87" y1="439.1" x2="268.87" y2="437.5" stroke="#000" stroke-width="0.9"/>
<line x1="268.87" y1="373.9" x2="268.87" y2="375.5" stroke="#000" stroke-width="0.9"/>
<line x1="271.8" y1="439.1" x2="271.8" y2="436.3" stroke="#000" stroke-width="0.9"/>
<line x1="271.8" y1="373.9" x2="271.8" y2="376.7" stroke="#000" stroke-width="0.9"/>
<line x1="274.74" y1="439.1" x2="274.74" y2="437.5" stroke="#000" stroke-width="0.9"/>
<line x1="274.74" y1="373.9" x2="274.74" y2="375.5" stroke="#000" stroke-width="0.9"/>
<line x1="277.67" y1="439.1" x2="277.67" y2="437.5" stroke="#000" stroke-width="0.9"/>
<line x1="277.67" y1="373.9" x2="277.67" y2="375.5" stroke="#000" stroke-width="0.9"/>
<line x1="280.61" y1="439.1" x2="280.61" y2="437.5" stroke="#000" stroke-width="0.9"/>
<line x1="280.61" y1="373.9" x2="280.61" y2="375.5" stroke="#000" stroke-width="0.9"/>
<line x1="283.54" y1="439.1" x2="283.54" y2="437.5" stroke="#000" stroke-width="0.9"/>
<line x1="283.54" y1="373.9" x2="283.54" y2="375.5" stroke="#000" stroke-width="0.9"/>
<line x1="286.48" y1="439.1" x2="286.48" y2="437.5" stroke="#000" stroke-width="0.9"/>
<line x1="286.48" y1="373.9" x2="286.48" y2="375.5" stroke="#000" stroke-width="0.9"/>
<line x1="289.41" y1="439.1" x2="289.41" y2="437.5" stroke="#000" stroke-width="0.9"/>
<line x1="289.41" y1="373.9" x2="289.41" y2="375.5" stroke="#000" stroke-width="0.9"/>
<line x1="292.34" y1="439.1" x2="292.34" y2="437.5" stroke="#000" stroke-width="0.9"/>
<line x1="292.34" y1="373.9" x2="292.34" y2="375.5" stroke="#000" stroke-width="0.9"/>
<line x1="295.28" y1="439.1" x2="295.28" y2="437.5" stroke="#000" stroke-width="0.9"/>
<line x1="295.28" y1="373.9" x2="295.28" y2="375.5" stroke="#000" stroke-width="0.9"/>
<line x1="298.21" y1="439.1" x2="298.21" y2="437.5" stroke="#000" stroke-width="0.9"/>
<line x1="298.21" y1="373.9" x2="298.21" y2="375.5" stroke="#000" stroke-width="0.9"/>
<line x1="301.15" y1="439.1" x2="301.15" y2="436.3" stroke="#000" stroke-width="0.9"/>
<line x1="301.15" y1="373.9" x2="301.15" y2="376.7" stroke="#000" stroke-width="0.9"/>
<line x1="304.08" y1="439.1" x2="304.08" y2="437.5" stroke="#000" stroke-width="0.9"/>
<line x1="304.08" y1="373.9" x2="304.08" y2="375.5" stroke="#000" stroke-width="0.9"/>
<line x1="307.02" y1="439.1" x2="307.02" y2="437.5" stroke="#000" stroke-width="0.9"/>
<line x1="307.02" y1="373.9" x2="307.02" y2="375.5" stroke="#000" stroke-width="0.9"/>
<line x1="309.95" y1="439.1" x2="309.95" y2="437.5" stroke="#000" stroke-width="0.9"/>
<line x1="309.95" y1="373.9" x2="309.95" y2="375.5" stroke="#000" stroke-width="0.9"/>
<line x1="312.89" y1="439.1" x2="312.89" y2="437.5" stroke="#000" stroke-width="0.9"/>
<line x1="312.89" y1="373.9" x2="312.89" y2="375.5" stroke="#000" stroke-width="0.9"/>
<line x1="315.82" y1="439.1" x2="315.82" y2="437.5" stroke="#000" stroke-width="0.9"/>
<line x1="315.82" y1="373.9" x2="315.82" y2="375.5" stroke="#000" stroke-width="0.9"/>
<line x1="318.76" y1="439.1" x2="318.76" y2="437.5" stroke="#000" stroke-width="0.9"/>
<line x1="318.76" y1="373.9" x2="318.76" y2="375.5" stroke="#000" stroke-width="0.9"/>
<line x1="321.69" y1="439.1" x2="321.69" y2="437.5" stroke="#000" stroke-width="0.9"/>
<line x1="321.69" y1="373.9" x2="321.69" y2="375.5" stroke="#000" stroke-width="0.9"/>
<line x1="324.63" y1="439.1" x2="324.63" y2="437.5" stroke="#000" stroke-width="0.9"/>
<line x1="324.63" y1="373.9" x2="324.63" y2="375.5" stroke="#000" stroke-width="0.9"/>
<line x1="327.56" y1="439.1" x2="327.56" y2="437.5" stroke="#000" stroke-width="0.9"/>
<line x1="327.56" y1="373.9" x2="327.56" y2="375.5" stroke="#000" stroke-width="0.9"/>
<line x1="330.5" y1="439.1" x2="330.5" y2="436.3" stroke="#000" stroke-width="0.9"/>
<line x1="330.5" y1="373.9" x2="330.5" y2="376.7" stroke="#000" stroke-width="0.9"/>
<line x1="211" y1="439.1" x2="213.6" y2="439.1" stroke="#000" stroke-width="0.8"/>
<line x1="332.8" y1="439.1" x2="330.2" y2="439.1" stroke="#000" stroke-width="0.8"/>
<text x="208.4" y="441.4" font-size="6.4" font-weight="bold" text-anchor="end" fill="#000" textLength="14.7" lengthAdjust="spacingAndGlyphs" stroke="#000" stroke-width="0.42">0.0</text>
<line x1="211" y1="426.06" x2="213.6" y2="426.06" stroke="#000" stroke-width="0.8"/>
<line x1="332.8" y1="426.06" x2="330.2" y2="426.06" stroke="#000" stroke-width="0.8"/>
<text x="208.4" y="428.36" font-size="6.4" font-weight="bold" text-anchor="end" fill="#000" textLength="14.7" lengthAdjust="spacingAndGlyphs" stroke="#000" stroke-width="0.42">0.2</text>
<line x1="211" y1="413.02" x2="213.6" y2="413.02" stroke="#000" stroke-width="0.8"/>
<line x1="332.8" y1="413.02" x2="330.2" y2="413.02" stroke="#000" stroke-width="0.8"/>
<text x="208.4" y="415.32" font-size="6.4" font-weight="bold" text-anchor="end" fill="#000" textLength="14.7" lengthAdjust="spacingAndGlyphs" stroke="#000" stroke-width="0.42">0.4</text>
<line x1="211" y1="399.98" x2="213.6" y2="399.98" stroke="#000" stroke-width="0.8"/>
<line x1="332.8" y1="399.98" x2="330.2" y2="399.98" stroke="#000" stroke-width="0.8"/>
<text x="208.4" y="402.28" font-size="6.4" font-weight="bold" text-anchor="end" fill="#000" textLength="14.7" lengthAdjust="spacingAndGlyphs" stroke="#000" stroke-width="0.42">0.6</text>
<line x1="211" y1="386.94" x2="213.6" y2="386.94" stroke="#000" stroke-width="0.8"/>
<line x1="332.8" y1="386.94" x2="330.2" y2="386.94" stroke="#000" stroke-width="0.8"/>
<text x="208.4" y="389.24" font-size="6.4" font-weight="bold" text-anchor="end" fill="#000" textLength="14.7" lengthAdjust="spacingAndGlyphs" stroke="#000" stroke-width="0.42">0.8</text>
<line x1="211" y1="373.9" x2="213.6" y2="373.9" stroke="#000" stroke-width="0.8"/>
<line x1="332.8" y1="373.9" x2="330.2" y2="373.9" stroke="#000" stroke-width="0.8"/>
<text x="208.4" y="376.2" font-size="6.4" font-weight="bold" text-anchor="end" fill="#000" textLength="14.7" lengthAdjust="spacingAndGlyphs" stroke="#000" stroke-width="0.42">1.0</text>
<rect x="211" y="373.9" width="121.8" height="65.2" fill="none" stroke="#000" stroke-width="1.2"/>
<text x="213.1" y="447.4" font-size="6.4" font-weight="bold" text-anchor="middle" fill="#000" textLength="4.8" lengthAdjust="spacingAndGlyphs" stroke="#000" stroke-width="0.42">0</text>
<text x="242.45" y="447.4" font-size="6.4" font-weight="bold" text-anchor="middle" fill="#000" textLength="16.6" lengthAdjust="spacingAndGlyphs" stroke="#000" stroke-width="0.42">100</text>
<text x="271.8" y="447.4" font-size="6.4" font-weight="bold" text-anchor="middle" fill="#000" textLength="16.6" lengthAdjust="spacingAndGlyphs" stroke="#000" stroke-width="0.42">200</text>
<text x="301.15" y="447.4" font-size="6.4" font-weight="bold" text-anchor="middle" fill="#000" textLength="16.6" lengthAdjust="spacingAndGlyphs" stroke="#000" stroke-width="0.42">300</text>
<text x="330.5" y="447.4" font-size="6.4" font-weight="bold" text-anchor="middle" fill="#000" textLength="16.6" lengthAdjust="spacingAndGlyphs" stroke="#000" stroke-width="0.42">400</text>
<text x="179.9" y="369.6" font-size="10" font-weight="bold" text-anchor="start" fill="#000" textLength="12.9" lengthAdjust="spacingAndGlyphs" stroke="#000" stroke-width="0.42">(d)</text>
<g transform="translate(174.5,414.8) rotate(-90)"><text x="0" y="3.46" font-size="9.6" font-weight="bold" text-anchor="middle" fill="#000" textLength="32.3" lengthAdjust="spacingAndGlyphs" stroke="#000" stroke-width="0.42">Normalized</text></g>
<g transform="translate(187,416.8) rotate(-90)"><text x="0" y="3.46" font-size="9.6" font-weight="bold" text-anchor="middle" fill="#000" textLength="37.9" lengthAdjust="spacingAndGlyphs" stroke="#000" stroke-width="0.42">Transmission</text></g>
<g transform="translate(179.1,385.4) rotate(-90)"><text x="0" y="2.95" font-size="8.2" font-weight="bold" text-anchor="middle" fill="#000" textLength="13.7" lengthAdjust="spacingAndGlyphs" stroke="#000" stroke-width="0.42">(a.u.)</text></g>
<text x="272.2" y="454.94" font-size="7.6" font-weight="bold" text-anchor="middle" fill="#000" textLength="46.4" lengthAdjust="spacingAndGlyphs" stroke="#000" stroke-width="0.42">Time (μs)</text>
</svg>
</body></html>
